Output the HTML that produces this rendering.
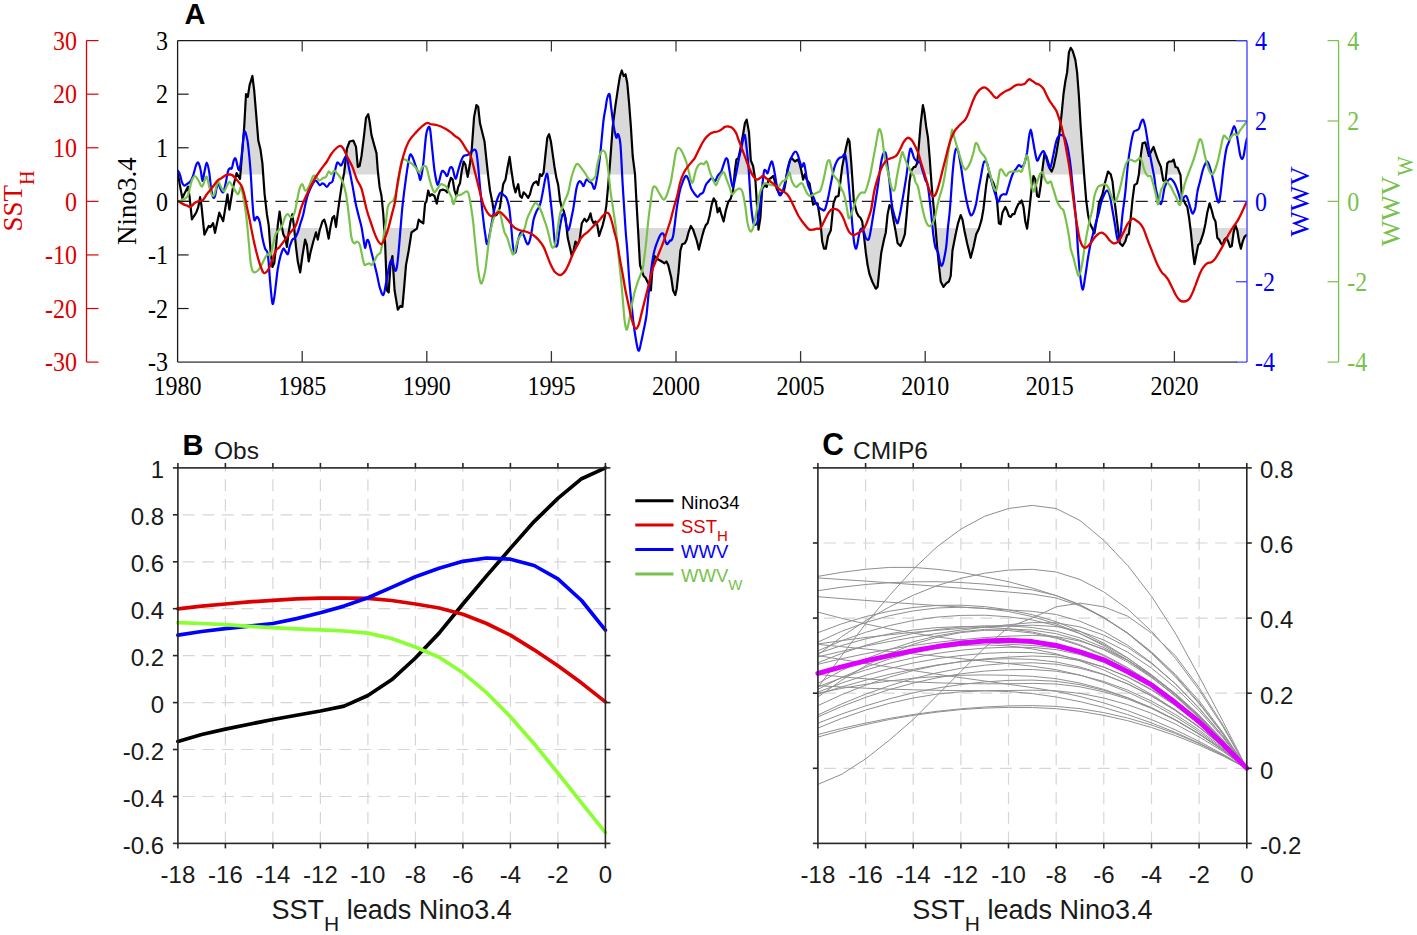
<!DOCTYPE html>
<html><head><meta charset="utf-8"><title>Figure</title>
<style>html,body{margin:0;padding:0;background:#fff;width:1417px;height:935px;overflow:hidden}
svg{display:block;font-family:"Liberation Sans",sans-serif}</style></head>
<body><svg width="1417" height="935" viewBox="0 0 1417 935">
<rect width="1417" height="935" fill="#fff"/>
<defs>
<clipPath id="clipA"><rect x="177.6" y="40.6" width="1069.4" height="321.5"/></clipPath>
<clipPath id="clipB"><rect x="174.9" y="464.9" width="433.5" height="381.5"/></clipPath>
<clipPath id="clipC"><rect x="814.9" y="464.9" width="434.9" height="381.5"/></clipPath>
</defs>
<polygon points="177.9,174.6 177.9,174.1 178.0,174.6" fill="#d9d9d9"/>
<polygon points="236.3,174.6 236.6,173.1 237.5,174.6" fill="#d9d9d9"/>
<polygon points="240.4,174.6 242.4,150.0 244.2,126.9 246.0,94.2 247.8,96.9 249.6,85.1 252.4,76.0 254.2,90.5 256.0,112.4 258.3,140.5 260.5,149.6 262.4,163.3 263.2,174.6" fill="#d9d9d9"/>
<polygon points="343.8,174.6 344.2,172.4 346.9,148.7 349.6,141.5 353.3,140.5 356.0,146.9 357.8,166.9 359.6,166.0 361.5,156.0 364.2,134.2 366.0,117.8 368.2,114.2 369.6,121.5 371.5,135.1 374.2,145.1 376.5,153.3 377.8,170.5 378.3,174.6" fill="#d9d9d9"/>
<polygon points="461.2,174.6 461.8,170.5 463.6,161.5 465.5,165.1 467.3,174.6" fill="#d9d9d9"/>
<polygon points="468.1,174.6 470.0,163.3 471.8,148.7 474.1,116.9 476.4,105.1 478.2,106.9 480.0,123.3 481.8,130.5 484.5,141.5 486.4,159.6 488.0,174.6" fill="#d9d9d9"/>
<polygon points="506.3,174.6 507.3,168.7 509.6,156.9 511.4,170.5 512.0,174.6" fill="#d9d9d9"/>
<polygon points="539.9,174.6 540.0,174.2 540.4,174.6" fill="#d9d9d9"/>
<polygon points="542.5,174.6 543.6,172.4 545.5,154.2 547.3,137.8 549.1,134.2 550.9,141.5 552.7,154.2 554.5,166.9 555.8,174.6" fill="#d9d9d9"/>
<polygon points="609.1,174.6 610.0,163.3 612.7,126.9 615.5,105.1 618.2,86.9 620.0,76.0 621.8,70.5 623.6,76.0 625.5,74.2 627.3,83.3 629.1,103.3 630.9,126.9 632.7,156.0 635.0,174.2 635.0,174.6" fill="#d9d9d9"/>
<polygon points="734.5,174.6 734.9,170.5 736.4,159.6 738.5,157.8 740.4,148.7 743.1,134.2 744.9,123.3 746.7,119.6 749.0,132.4 750.8,160.5 753.1,166.0 754.4,174.6" fill="#d9d9d9"/>
<polygon points="786.8,174.6 787.6,168.7 789.5,161.5 791.3,157.8 793.1,159.6 794.9,161.5 797.6,159.6 799.5,163.3 801.3,170.5 802.1,174.6" fill="#d9d9d9"/>
<polygon points="804.8,174.6 804.9,174.2 805.0,174.6" fill="#d9d9d9"/>
<polygon points="841.2,174.6 842.2,166.9 844.0,157.8 845.8,148.7 848.1,138.7 849.5,141.5 851.3,163.3 852.0,174.6" fill="#d9d9d9"/>
<polygon points="910.6,174.6 911.3,170.5 914.0,166.9 915.3,166.9 917.1,163.3 918.9,145.1 920.7,123.3 922.9,105.1 924.4,112.4 926.2,126.9 928.0,137.8 929.8,159.6 930.9,174.6" fill="#d9d9d9"/>
<polygon points="987.9,174.6 988.0,174.2 988.3,174.6" fill="#d9d9d9"/>
<polygon points="1041.9,174.6 1042.5,168.7 1044.4,154.2 1046.2,156.0 1048.0,161.5 1049.8,168.7 1051.6,171.5 1053.5,166.9 1056.2,154.2 1058.9,137.8 1061.6,114.2 1063.5,94.2 1065.3,81.5 1067.1,72.4 1068.9,52.4 1070.7,47.8 1072.5,50.5 1075.3,59.6 1077.1,72.4 1078.9,96.0 1080.7,126.9 1082.5,152.4 1084.1,174.6" fill="#d9d9d9"/>
<polygon points="1107.2,174.6 1108.0,171.5 1110.7,174.2 1110.8,174.6" fill="#d9d9d9"/>
<polygon points="1138.8,174.6 1138.9,174.2 1140.7,156.0 1142.5,143.3 1145.3,142.4 1147.1,148.7 1148.9,156.0 1151.6,150.5 1153.5,146.9 1155.3,152.4 1158.1,160.5 1160.9,166.9 1162.2,174.6" fill="#d9d9d9"/>
<polygon points="1166.1,174.6 1167.3,163.3 1169.1,161.5 1171.8,161.5 1173.6,159.6 1175.5,166.9 1177.7,167.8 1180.3,174.6" fill="#d9d9d9"/>
<polygon points="203.7,228.1 204.4,234.7 207.7,228.1" fill="#d9d9d9"/>
<polygon points="214.1,228.1 215.0,232.8 216.0,228.1" fill="#d9d9d9"/>
<polygon points="268.9,228.1 270.5,250.5 272.4,266.9 274.2,263.3 276.0,246.9 277.6,228.1" fill="#d9d9d9"/>
<polygon points="282.1,228.1 283.3,234.2 285.1,237.8 286.9,246.9 288.7,232.4 289.4,228.1" fill="#d9d9d9"/>
<polygon points="294.1,228.1 294.2,228.7 296.0,246.9 297.8,261.5 300.2,272.4 302.4,256.0 305.1,239.6 306.9,245.1 308.7,261.5 310.5,252.4 313.3,241.5 316.0,232.4 317.8,239.6 319.6,230.5 320.4,228.1" fill="#d9d9d9"/>
<polygon points="326.6,228.1 328.7,238.7 330.4,228.1" fill="#d9d9d9"/>
<polygon points="384.1,228.1 385.1,243.3 386.9,290.5 388.7,292.4 390.5,265.1 392.4,256.0 394.6,290.5 397.8,309.6 400.5,306.0 402.4,306.9 404.2,286.9 406.0,265.1 408.7,250.5 411.5,232.4 414.2,230.5 416.9,228.7 417.0,228.1" fill="#d9d9d9"/>
<polygon points="566.6,228.1 567.7,237.8 570.0,247.8 571.8,256.0 573.6,250.5 575.5,241.5 577.3,245.1 579.5,240.5 581.2,228.1" fill="#d9d9d9"/>
<polygon points="597.8,228.1 599.1,236.0 600.9,230.5 601.7,228.1" fill="#d9d9d9"/>
<polygon points="637.9,228.1 638.2,232.4 640.0,265.1 641.8,270.5 643.6,276.0 645.5,277.8 647.3,281.5 649.1,285.1 650.9,290.5 652.7,265.1 654.5,256.0 656.4,257.8 658.2,259.6 660.0,260.5 661.8,261.5 664.5,263.3 666.4,261.5 668.2,265.1 670.0,272.4 671.3,277.8 673.1,290.5 675.3,295.1 676.7,288.7 678.5,272.4 680.4,250.5 682.2,244.2 684.9,243.3 686.7,239.6 688.5,232.4 690.1,228.1" fill="#d9d9d9"/>
<polygon points="692.2,228.1 693.1,229.6 694.9,235.1 696.7,240.5 698.9,249.6 700.4,243.3 702.2,236.0 704.0,229.6 704.6,228.1" fill="#d9d9d9"/>
<polygon points="758.5,228.1 758.5,229.6 758.8,228.1" fill="#d9d9d9"/>
<polygon points="821.0,228.1 822.2,241.5 824.0,248.7 825.8,248.7 828.1,236.0 830.8,230.5 831.1,228.1" fill="#d9d9d9"/>
<polygon points="863.0,228.1 864.0,236.0 865.8,252.4 867.6,265.1 869.5,274.2 872.2,281.5 875.8,288.7 877.6,286.9 879.5,268.7 881.3,252.4 884.0,239.6 885.8,232.4 886.2,228.1" fill="#d9d9d9"/>
<polygon points="895.0,228.1 895.8,232.4 897.6,243.3 900.4,246.0 903.1,239.6 904.9,234.2 905.5,228.1" fill="#d9d9d9"/>
<polygon points="935.5,228.1 937.1,246.9 938.9,265.1 940.7,281.5 943.5,286.9 946.2,283.3 948.9,281.5 950.7,276.0 952.5,250.5 955.3,236.0 957.0,228.1" fill="#d9d9d9"/>
<polygon points="964.0,228.1 964.4,230.5 967.1,243.3 970.7,257.8 973.5,246.9 976.2,234.2 978.9,228.7 979.1,228.1" fill="#d9d9d9"/>
<polygon points="1026.9,228.1 1027.1,228.7 1027.2,228.1" fill="#d9d9d9"/>
<polygon points="1092.3,228.1 1092.5,228.7 1094.4,233.3 1095.3,228.1" fill="#d9d9d9"/>
<polygon points="1117.9,228.1 1119.8,243.3 1122.5,246.0 1125.3,241.5 1127.1,235.1 1128.9,234.2 1129.6,228.1" fill="#d9d9d9"/>
<polygon points="1190.4,228.1 1190.9,232.4 1192.7,250.5 1194.5,264.2 1196.4,254.2 1198.2,245.1 1200.0,243.3 1201.8,237.8 1203.6,232.4 1204.5,228.1" fill="#d9d9d9"/>
<polygon points="1216.2,228.1 1217.3,237.8 1219.1,239.6 1220.9,243.3 1222.7,245.1 1224.5,239.6 1226.4,237.8 1228.2,241.5 1230.0,246.9 1231.8,246.0 1233.6,232.4 1234.7,228.1" fill="#d9d9d9"/>
<polygon points="1236.5,228.1 1237.3,230.5 1239.1,241.5 1240.9,248.7 1242.7,241.5 1244.5,236.9 1246.4,235.1 1246.4,228.1" fill="#d9d9d9"/>
<line x1="177.6" y1="201.35" x2="1247.0" y2="201.35" stroke="#222" stroke-width="1.15" stroke-dasharray="12.2 7.35"/>
<g clip-path="url(#clipA)">
<polyline points="177.9,174.1 182.3,198.1 188.0,186.6 189.5,196.2 191.9,219.3 196.2,212.6 198.1,207.7 200.1,197.2 201.5,205.8 204.4,234.7 208.7,226.0 210.6,227.0 213.1,223.1 215.0,232.8 219.3,212.6 223.2,221.2 227.5,194.3 229.4,209.7 232.8,188.5 236.6,173.1 240.0,178.9 242.4,150.0 244.2,126.9 246.0,94.2 247.8,96.9 249.6,85.1 252.4,76.0 254.2,90.5 256.0,112.4 258.3,140.5 260.5,149.6 262.4,163.3 264.6,194.2 266.9,214.2 268.7,225.1 270.5,250.5 272.4,266.9 274.2,263.3 276.0,246.9 277.8,225.1 279.6,211.5 281.5,225.1 283.3,234.2 285.1,237.8 286.9,246.9 288.7,232.4 290.5,221.5 292.4,214.2 294.2,228.7 296.0,246.9 297.8,261.5 300.2,272.4 302.4,256.0 305.1,239.6 306.9,245.1 308.7,261.5 310.5,252.4 313.3,241.5 316.0,232.4 317.8,239.6 319.6,230.5 322.4,221.5 324.2,219.6 326.0,225.1 328.7,238.7 330.5,226.9 332.4,217.8 334.2,216.0 336.0,226.9 337.8,212.4 339.6,199.6 341.5,186.9 344.2,172.4 346.9,148.7 349.6,141.5 353.3,140.5 356.0,146.9 357.8,166.9 359.6,166.0 361.5,156.0 364.2,134.2 366.0,117.8 368.2,114.2 369.6,121.5 371.5,135.1 374.2,145.1 376.5,153.3 377.8,170.5 379.6,186.9 381.5,196.0 383.3,214.2 385.1,243.3 386.9,290.5 388.7,292.4 390.5,265.1 392.4,256.0 394.6,290.5 397.8,309.6 400.5,306.0 402.4,306.9 404.2,286.9 406.0,265.1 408.7,250.5 411.5,232.4 414.2,230.5 416.9,228.7 418.7,219.6 420.5,221.5 423.3,223.3 425.1,203.3 426.4,201.5 428.2,190.5 430.0,196.0 431.8,194.2 434.5,196.0 436.8,203.7 438.2,196.0 440.0,190.5 442.7,189.6 445.5,190.5 447.3,192.4 449.1,183.3 450.9,177.8 452.7,179.6 454.5,190.5 456.4,196.0 458.2,186.9 460.0,183.3 461.8,170.5 463.6,161.5 465.5,165.1 467.7,176.9 470.0,163.3 471.8,148.7 474.1,116.9 476.4,105.1 478.2,106.9 480.0,123.3 481.8,130.5 484.5,141.5 486.4,159.6 488.2,176.0 490.0,190.5 492.3,201.9 494.5,216.0 496.4,215.1 498.2,212.4 500.0,206.9 503.2,184.2 505.5,179.6 507.3,168.7 509.6,156.9 511.4,170.5 513.6,185.1 515.5,192.4 518.2,184.2 520.0,196.0 521.8,197.8 523.6,192.4 525.5,194.2 528.2,197.8 530.0,194.2 531.8,186.9 533.6,183.3 536.4,181.5 538.2,185.1 540.0,174.2 541.8,176.0 543.6,172.4 545.5,154.2 547.3,137.8 549.1,134.2 550.9,141.5 552.7,154.2 554.5,166.9 556.4,177.8 558.2,185.1 560.0,200.5 561.8,207.8 563.6,210.5 565.5,217.8 567.7,237.8 570.0,247.8 571.8,256.0 573.6,250.5 575.5,241.5 577.3,245.1 579.5,240.5 581.8,223.3 584.5,218.7 586.4,221.5 588.2,219.6 590.5,213.3 591.8,219.6 593.6,223.3 595.5,221.5 597.3,225.1 599.1,236.0 600.9,230.5 602.7,225.1 604.5,217.8 606.4,205.1 608.2,185.1 610.0,163.3 612.7,126.9 615.5,105.1 618.2,86.9 620.0,76.0 621.8,70.5 623.6,76.0 625.5,74.2 627.3,83.3 629.1,103.3 630.9,126.9 632.7,156.0 635.0,174.2 636.4,200.5 638.2,232.4 640.0,265.1 641.8,270.5 643.6,276.0 645.5,277.8 647.3,281.5 649.1,285.1 650.9,290.5 652.7,265.1 654.5,256.0 656.4,257.8 658.2,259.6 660.0,260.5 661.8,261.5 664.5,263.3 666.4,261.5 668.2,265.1 670.0,272.4 671.3,277.8 673.1,290.5 675.3,295.1 676.7,288.7 678.5,272.4 680.4,250.5 682.2,244.2 684.9,243.3 686.7,239.6 688.5,232.4 690.9,226.0 693.1,229.6 694.9,235.1 696.7,240.5 698.9,249.6 700.4,243.3 702.2,236.0 704.0,229.6 705.8,225.1 707.6,223.3 709.5,216.0 711.7,204.6 713.7,198.3 715.8,201.9 717.6,212.4 719.5,207.8 721.3,214.2 723.6,221.5 725.8,210.5 728.1,202.4 730.8,198.3 733.1,190.5 734.9,170.5 736.4,159.6 738.5,157.8 740.4,148.7 743.1,134.2 744.9,123.3 746.7,119.6 749.0,132.4 750.8,160.5 753.1,166.0 755.4,180.5 756.7,200.5 758.5,229.6 760.4,217.8 762.2,188.7 764.9,185.1 766.7,186.9 768.5,179.6 771.3,177.8 773.1,176.0 774.9,181.5 776.7,188.7 779.5,194.2 782.2,192.4 784.0,190.5 785.8,181.5 787.6,168.7 789.5,161.5 791.3,157.8 793.1,159.6 794.9,161.5 797.6,159.6 799.5,163.3 801.3,170.5 803.1,179.6 804.9,174.2 806.7,179.6 809.5,183.3 811.3,194.2 813.1,204.6 814.9,203.3 817.6,203.3 820.4,221.5 822.2,241.5 824.0,248.7 825.8,248.7 828.1,236.0 830.8,230.5 833.5,203.3 835.8,196.9 838.5,196.0 840.4,181.5 842.2,166.9 844.0,157.8 845.8,148.7 848.1,138.7 849.5,141.5 851.3,163.3 853.8,200.8 856.7,212.4 858.5,216.0 860.4,217.8 862.2,221.5 864.0,236.0 865.8,252.4 867.6,265.1 869.5,274.2 872.2,281.5 875.8,288.7 877.6,286.9 879.5,268.7 881.3,252.4 884.0,239.6 885.8,232.4 887.6,214.2 889.5,205.1 891.3,206.9 893.1,217.8 895.8,232.4 897.6,243.3 900.4,246.0 903.1,239.6 904.9,234.2 906.7,214.2 909.5,181.5 911.3,170.5 914.0,166.9 915.3,166.9 917.1,163.3 918.9,145.1 920.7,123.3 922.9,105.1 924.4,112.4 926.2,126.9 928.0,137.8 929.8,159.6 931.6,185.1 935.3,225.1 937.1,246.9 938.9,265.1 940.7,281.5 943.5,286.9 946.2,283.3 948.9,281.5 950.7,276.0 952.5,250.5 955.3,236.0 958.0,223.3 960.7,215.1 962.5,219.6 964.4,230.5 967.1,243.3 970.7,257.8 973.5,246.9 976.2,234.2 978.9,228.7 981.6,219.6 983.5,208.7 986.2,185.1 988.0,174.2 990.7,177.8 993.5,183.3 995.3,188.7 997.1,201.5 998.9,223.3 1000.7,224.2 1002.5,212.4 1005.3,206.9 1007.1,210.5 1008.9,216.0 1010.7,216.9 1012.5,214.2 1014.4,214.2 1016.2,208.7 1018.5,203.7 1019.8,203.3 1021.6,200.5 1023.5,206.9 1025.3,221.5 1027.1,228.7 1028.9,214.2 1031.6,188.7 1033.5,176.0 1035.3,179.6 1037.1,196.0 1038.9,196.9 1040.7,185.1 1042.5,168.7 1044.4,154.2 1046.2,156.0 1048.0,161.5 1049.8,168.7 1051.6,171.5 1053.5,166.9 1056.2,154.2 1058.9,137.8 1061.6,114.2 1063.5,94.2 1065.3,81.5 1067.1,72.4 1068.9,52.4 1070.7,47.8 1072.5,50.5 1075.3,59.6 1077.1,72.4 1078.9,96.0 1080.7,126.9 1082.5,152.4 1084.4,177.8 1086.2,200.5 1088.0,214.2 1089.8,223.3 1092.5,228.7 1094.4,233.3 1097.1,217.8 1098.9,203.3 1102.5,194.2 1105.3,181.5 1108.0,171.5 1110.7,174.2 1112.5,181.5 1114.4,199.6 1117.5,225.1 1119.8,243.3 1122.5,246.0 1125.3,241.5 1127.1,235.1 1128.9,234.2 1130.7,217.8 1132.5,199.6 1134.4,185.1 1137.1,183.3 1138.9,174.2 1140.7,156.0 1142.5,143.3 1145.3,142.4 1147.1,148.7 1148.9,156.0 1151.6,150.5 1153.5,146.9 1155.3,152.4 1158.1,160.5 1160.9,166.9 1163.2,180.5 1165.5,181.5 1167.3,163.3 1169.1,161.5 1171.8,161.5 1173.6,159.6 1175.5,166.9 1177.7,167.8 1180.5,175.1 1181.8,196.0 1185.5,204.2 1187.3,206.9 1189.1,217.8 1190.9,232.4 1192.7,250.5 1194.5,264.2 1196.4,254.2 1198.2,245.1 1200.0,243.3 1201.8,237.8 1203.6,232.4 1205.5,223.3 1207.3,212.4 1209.6,203.3 1211.8,210.5 1213.6,217.8 1215.5,221.5 1217.3,237.8 1219.1,239.6 1220.9,243.3 1222.7,245.1 1224.5,239.6 1226.4,237.8 1228.2,241.5 1230.0,246.9 1231.8,246.0 1233.6,232.4 1235.5,225.1 1237.3,230.5 1239.1,241.5 1240.9,248.7 1242.7,241.5 1244.5,236.9 1246.4,235.1" fill="none" stroke="#000" stroke-width="2.2" stroke-linejoin="round" stroke-linecap="round"/>
<path d="M177.9,170.7 C178.2,171.3 179.2,172.2 179.8,174.1 C180.5,175.9 181.1,179.8 181.8,181.8 C182.5,183.7 183.4,185.2 184.2,185.6 C185.0,186.0 185.5,184.9 186.6,184.2 C187.6,183.4 189.3,182.8 190.4,181.3 C191.6,179.8 192.4,177.5 193.3,175.0 C194.2,172.5 194.9,168.4 195.7,166.4 C196.5,164.3 197.3,162.0 198.1,162.5 C198.9,163.0 199.8,166.2 200.5,169.2 C201.3,172.3 201.8,180.3 202.5,180.8 C203.1,181.3 203.7,175.2 204.4,172.1 C205.1,169.1 206.0,162.5 206.8,162.5 C207.6,162.5 208.5,167.8 209.2,172.1 C209.9,176.5 210.5,184.3 211.1,188.5 C211.8,192.7 212.4,195.9 213.1,197.2 C213.7,198.4 214.3,198.0 215.0,196.2 C215.6,194.4 216.3,188.8 216.9,186.6 C217.5,184.3 217.8,182.4 218.3,182.7 C218.9,183.0 219.5,186.9 220.3,188.5 C221.1,190.1 222.3,193.2 223.2,192.3 C224.0,191.5 224.8,187.2 225.6,183.7 C226.4,180.2 227.3,173.7 228.0,171.2 C228.7,168.6 229.3,168.8 229.9,168.3 C230.5,167.8 231.2,169.6 231.8,168.3 C232.5,167.0 233.1,162.2 233.7,160.6 C234.4,159.0 235.0,157.4 235.7,158.7 C236.4,159.9 237.4,166.5 238.1,168.3 C238.7,170.1 239.0,171.0 239.5,169.2 C240.1,167.5 240.7,163.8 241.4,157.7 C242.2,151.6 243.3,135.7 244.2,132.4 C245.1,129.1 246.2,134.8 246.9,137.8 C247.7,140.8 248.1,145.1 248.7,150.5 C249.3,156.0 249.9,162.1 250.5,170.5 C251.2,179.0 251.8,193.3 252.4,201.5 C253.0,209.6 253.4,217.1 254.2,219.6 C254.9,222.2 256.0,216.6 256.9,216.9 C257.8,217.2 258.7,218.0 259.6,221.5 C260.5,224.9 261.5,233.3 262.4,237.8 C263.3,242.4 264.2,246.0 265.1,248.7 C266.0,251.5 267.0,248.7 267.8,254.2 C268.7,259.6 269.3,273.3 270.1,281.5 C270.8,289.6 271.7,300.5 272.4,303.3 C273.0,306.0 273.6,301.2 274.2,297.8 C274.8,294.5 275.4,288.1 276.0,283.3 C276.6,278.4 277.1,273.3 277.8,268.7 C278.6,264.2 279.6,259.3 280.5,256.0 C281.5,252.7 282.5,249.6 283.3,248.7 C284.0,247.8 284.3,249.6 285.1,250.5 C285.8,251.5 287.1,254.8 287.8,254.2 C288.6,253.6 288.9,249.3 289.6,246.9 C290.4,244.5 291.5,241.2 292.4,239.6 C293.3,238.1 294.2,239.0 295.1,237.8 C296.0,236.6 296.9,234.8 297.8,232.4 C298.7,229.9 299.6,226.3 300.5,223.3 C301.5,220.2 302.4,217.8 303.3,214.2 C304.2,210.5 305.1,205.1 306.0,201.5 C306.9,197.8 307.4,195.7 308.7,192.4 C310.1,189.0 312.8,183.3 314.2,181.5 C315.5,179.6 316.0,180.8 316.9,181.5 C317.8,182.1 318.7,184.8 319.6,185.1 C320.5,185.4 321.6,183.4 322.4,183.3 C323.1,183.1 323.4,183.6 324.2,184.2 C324.9,184.8 326.0,187.1 326.9,186.9 C327.8,186.8 328.7,184.2 329.6,183.3 C330.5,182.4 331.6,183.0 332.4,181.5 C333.1,179.9 333.4,177.2 334.2,174.2 C334.9,171.2 336.2,165.1 336.9,163.3 C337.7,161.5 338.0,163.0 338.7,163.3 C339.5,163.6 340.2,166.3 341.5,165.1 C342.7,163.9 344.8,155.7 346.0,156.0 C347.2,156.3 347.7,162.1 348.7,166.9 C349.8,171.8 351.2,178.7 352.4,185.1 C353.6,191.5 354.9,199.9 356.0,205.1 C357.1,210.2 357.8,212.4 358.7,216.0 C359.6,219.6 360.7,223.3 361.5,226.9 C362.2,230.5 362.7,234.3 363.3,237.8 C363.9,241.3 364.5,247.4 365.1,247.8 C365.7,248.3 366.3,241.6 366.9,240.5 C367.5,239.5 368.0,239.5 368.7,241.5 C369.5,243.4 370.5,248.7 371.5,252.4 C372.4,256.0 373.3,259.6 374.2,263.3 C375.1,266.9 376.0,270.2 376.9,274.2 C377.8,278.1 378.6,283.4 379.6,286.9 C380.7,290.4 382.2,295.7 383.3,295.1 C384.3,294.5 385.1,287.7 386.0,283.3 C386.9,278.9 388.0,272.4 388.7,268.7 C389.5,265.1 389.9,262.8 390.5,261.5 C391.2,260.1 391.6,259.0 392.4,260.5 C393.1,262.1 394.3,269.5 395.1,270.5 C395.8,271.6 396.3,270.2 396.9,266.9 C397.5,263.6 398.1,256.9 398.7,250.5 C399.3,244.2 399.9,236.0 400.5,228.7 C401.2,221.5 401.5,215.4 402.4,206.9 C403.3,198.4 404.8,186.3 406.0,177.8 C407.2,169.3 408.6,159.5 409.6,156.0 C410.7,152.5 411.3,155.1 412.4,156.9 C413.4,158.7 414.9,164.0 416.0,166.9 C417.1,169.8 418.0,172.1 418.7,174.2 C419.5,176.3 419.8,181.5 420.5,179.6 C421.3,177.8 422.4,170.5 423.3,163.3 C424.2,156.0 425.2,141.9 426.0,136.0 C426.8,130.1 427.5,129.0 428.2,127.8 C428.8,126.6 429.4,125.8 430.0,128.7 C430.6,131.6 431.1,138.1 431.8,145.1 C432.6,152.1 433.6,164.0 434.5,170.5 C435.5,177.1 436.5,182.4 437.3,184.2 C438.0,186.0 438.3,183.6 439.1,181.5 C439.8,179.3 440.9,173.0 441.8,171.5 C442.7,169.9 443.6,171.6 444.5,172.4 C445.5,173.1 446.4,176.8 447.3,176.0 C448.2,175.2 449.1,169.0 450.0,167.8 C450.9,166.6 451.8,166.9 452.7,168.7 C453.6,170.5 454.5,178.4 455.5,178.7 C456.4,179.0 457.3,173.4 458.2,170.5 C459.1,167.7 460.0,163.9 460.9,161.5 C461.8,159.0 462.6,157.1 463.6,156.0 C464.7,154.9 466.1,155.7 467.3,155.1 C468.5,154.5 469.7,153.3 470.9,152.4 C472.1,151.5 473.6,149.6 474.5,149.6 C475.5,149.6 475.8,149.5 476.4,152.4 C477.0,155.2 477.6,161.2 478.2,166.9 C478.8,172.7 479.2,179.0 480.0,186.9 C480.8,194.8 481.8,206.0 482.7,214.2 C483.6,222.4 484.7,231.0 485.5,236.0 C486.2,241.0 486.5,244.8 487.3,244.2 C488.0,243.6 489.1,236.8 490.0,232.4 C490.9,228.0 491.8,222.4 492.7,217.8 C493.6,213.3 494.2,209.2 495.5,205.1 C496.7,201.0 498.6,194.9 500.0,193.3 C501.4,191.6 502.6,194.3 503.6,195.1 C504.7,195.8 505.5,195.8 506.4,197.8 C507.3,199.8 508.3,202.7 509.1,206.9 C509.8,211.2 510.2,216.5 510.9,223.3 C511.6,230.1 512.4,243.0 513.2,247.8 C513.9,252.7 514.6,253.7 515.5,252.4 C516.3,251.0 517.3,243.0 518.2,239.6 C519.1,236.3 520.0,233.1 520.9,232.4 C521.8,231.6 522.7,233.4 523.6,235.1 C524.5,236.8 525.6,240.8 526.4,242.4 C527.1,243.9 527.6,244.6 528.2,244.2 C528.8,243.7 529.4,241.9 530.0,239.6 C530.6,237.4 531.2,233.9 531.8,230.5 C532.4,227.2 532.9,222.8 533.6,219.6 C534.4,216.5 535.5,213.6 536.4,211.5 C537.3,209.3 538.3,208.6 539.1,206.9 C539.8,205.2 540.3,203.9 540.9,201.5 C541.5,199.0 542.0,196.3 542.7,192.4 C543.5,188.4 544.7,180.8 545.5,177.8 C546.2,174.8 546.7,172.7 547.3,174.2 C547.9,175.7 548.2,179.3 549.1,186.9 C550.0,194.5 551.7,210.2 552.7,219.6 C553.7,229.1 554.2,239.5 555.0,243.7 C555.8,248.0 556.6,247.0 557.3,245.1 C558.0,243.2 558.5,236.3 559.1,232.4 C559.7,228.4 560.3,224.5 560.9,221.5 C561.5,218.4 562.1,215.1 562.7,214.2 C563.3,213.3 563.9,214.2 564.5,216.0 C565.2,217.8 565.8,222.7 566.4,225.1 C567.0,227.5 567.6,230.5 568.2,230.5 C568.8,230.5 569.4,227.5 570.0,225.1 C570.6,222.7 571.2,219.0 571.8,216.0 C572.4,213.0 572.9,211.5 573.6,206.9 C574.4,202.4 575.5,193.0 576.4,188.7 C577.3,184.5 578.2,182.4 579.1,181.5 C580.0,180.5 581.1,182.5 581.8,183.3 C582.6,184.0 582.9,186.6 583.6,186.0 C584.4,185.4 585.5,180.4 586.4,179.6 C587.3,178.9 588.2,180.8 589.1,181.5 C590.0,182.1 590.9,182.1 591.8,183.3 C592.7,184.5 593.6,189.9 594.5,188.7 C595.5,187.5 596.4,181.5 597.3,176.0 C598.2,170.5 599.2,162.4 600.0,156.0 C600.8,149.6 601.2,143.9 601.8,137.8 C602.4,131.8 603.0,124.5 603.6,119.6 C604.2,114.8 604.8,112.4 605.5,108.7 C606.1,105.1 606.6,100.2 607.3,97.8 C607.9,95.4 608.8,93.0 609.5,94.2 C610.1,95.4 610.4,100.8 610.9,105.1 C611.5,109.3 612.1,115.4 612.7,119.6 C613.3,123.9 613.9,127.5 614.5,130.5 C615.2,133.6 615.8,137.2 616.4,137.8 C617.0,138.4 617.5,133.0 618.2,134.2 C618.9,135.4 619.7,136.6 620.5,145.1 C621.2,153.6 621.9,171.2 622.7,185.1 C623.6,199.0 624.7,217.8 625.5,228.7 C626.2,239.6 626.7,242.4 627.3,250.5 C627.9,258.7 628.5,269.9 629.1,277.8 C629.7,285.7 630.3,291.5 630.9,297.8 C631.5,304.2 632.1,310.5 632.7,316.0 C633.3,321.5 633.8,325.4 634.5,330.5 C635.3,335.7 636.5,343.6 637.3,346.9 C638.0,350.2 638.5,351.2 639.1,350.5 C639.7,349.9 640.2,346.6 640.9,343.3 C641.7,339.9 642.7,335.1 643.6,330.5 C644.5,326.0 645.6,321.5 646.4,316.0 C647.1,310.5 647.6,303.9 648.2,297.8 C648.8,291.8 649.4,285.1 650.0,279.6 C650.6,274.2 651.2,269.3 651.8,265.1 C652.4,260.8 653.0,257.2 653.6,254.2 C654.2,251.2 654.7,249.3 655.5,246.9 C656.2,244.5 657.3,241.8 658.2,239.6 C659.1,237.5 660.0,235.1 660.9,234.2 C661.8,233.3 662.9,233.0 663.6,234.2 C664.4,235.4 664.8,239.8 665.5,241.5 C666.1,243.1 666.5,244.3 667.3,244.2 C668.0,244.0 669.3,241.2 670.0,240.5 C670.7,239.9 670.8,241.3 671.3,240.5 C671.8,239.8 672.5,238.9 673.1,236.0 C673.7,233.1 674.3,227.8 674.9,223.3 C675.5,218.7 676.0,213.9 676.7,208.7 C677.5,203.6 678.5,196.6 679.5,192.4 C680.4,188.1 681.1,186.0 682.2,183.3 C683.2,180.5 684.8,176.6 685.8,176.0 C686.9,175.4 687.6,177.5 688.5,179.6 C689.5,181.8 690.2,186.3 691.3,188.7 C692.3,191.2 693.8,192.8 694.9,194.2 C696.0,195.5 696.7,196.9 697.6,196.9 C698.5,196.9 699.5,194.9 700.4,194.2 C701.3,193.4 702.2,193.9 703.1,192.4 C704.0,190.8 704.9,186.9 705.8,185.1 C706.7,183.3 707.5,182.7 708.5,181.5 C709.6,180.2 711.1,177.8 712.2,177.8 C713.2,177.8 714.0,181.8 714.9,181.5 C715.8,181.2 716.6,177.7 717.6,176.0 C718.7,174.3 720.2,173.6 721.3,171.5 C722.3,169.3 723.2,165.4 724.0,163.3 C724.8,161.2 725.2,159.3 725.8,158.7 C726.4,158.1 727.0,157.7 727.6,159.6 C728.2,161.6 728.8,166.9 729.5,170.5 C730.1,174.2 730.7,178.7 731.3,181.5 C731.9,184.2 732.5,187.2 733.1,186.9 C733.7,186.6 734.3,182.4 734.9,179.6 C735.5,176.9 736.0,174.5 736.7,170.5 C737.5,166.6 738.7,159.6 739.5,156.0 C740.2,152.4 740.7,151.5 741.3,148.7 C741.9,146.0 742.5,141.9 743.1,139.6 C743.7,137.4 744.3,133.6 744.9,135.1 C745.5,136.6 746.1,143.4 746.7,148.7 C747.3,154.0 747.9,158.0 748.5,166.9 C749.2,175.8 750.1,193.3 750.8,202.4 C751.6,211.5 752.4,217.7 753.1,221.5 C753.8,225.2 754.2,225.1 754.9,225.1 C755.7,225.1 756.9,223.9 757.6,221.5 C758.4,219.0 758.7,216.3 759.5,210.5 C760.2,204.8 761.4,193.4 762.2,186.9 C762.9,180.4 763.4,174.2 764.0,171.5 C764.6,168.7 765.2,170.2 765.8,170.5 C766.4,170.8 767.0,173.9 767.6,173.3 C768.2,172.7 768.8,168.9 769.5,166.9 C770.1,164.9 771.0,161.8 771.6,161.5 C772.2,161.2 772.5,163.0 773.1,165.1 C773.6,167.2 774.3,170.8 774.9,174.2 C775.5,177.5 776.0,181.6 776.7,185.1 C777.5,188.6 778.5,193.9 779.5,195.1 C780.4,196.3 781.3,194.3 782.2,192.4 C783.1,190.4 784.0,186.9 784.9,183.3 C785.8,179.6 786.7,174.5 787.6,170.5 C788.5,166.6 789.5,162.4 790.4,159.6 C791.3,156.9 792.3,155.5 793.1,154.2 C793.9,152.8 794.5,151.5 795.3,151.5 C796.0,151.5 796.8,152.2 797.6,154.2 C798.5,156.2 799.6,161.2 800.4,163.3 C801.1,165.4 801.6,166.9 802.2,166.9 C802.8,166.9 803.4,162.4 804.0,163.3 C804.6,164.2 805.2,169.0 805.8,172.4 C806.4,175.7 807.0,180.5 807.6,183.3 C808.2,186.0 808.7,186.9 809.5,188.7 C810.2,190.5 811.2,192.0 812.2,194.2 C813.2,196.4 814.3,199.8 815.4,201.9 C816.4,204.0 817.4,205.6 818.5,206.9 C819.7,208.2 821.1,209.2 822.2,209.6 C823.2,210.1 823.9,211.6 824.9,209.6 C825.9,207.7 827.0,202.5 828.1,197.8 C829.2,193.1 830.3,186.3 831.3,181.5 C832.3,176.6 833.1,172.1 834.0,168.7 C834.9,165.4 835.8,163.3 836.7,161.5 C837.6,159.6 838.5,158.6 839.5,157.8 C840.4,157.1 841.3,157.5 842.2,156.9 C843.1,156.3 844.2,153.1 844.9,154.2 C845.7,155.2 846.1,158.7 846.7,163.3 C847.3,167.8 847.6,171.5 848.5,181.5 C849.5,191.5 851.3,213.3 852.2,223.3 C853.1,233.3 853.4,237.2 854.0,241.5 C854.6,245.7 855.2,248.4 855.8,248.7 C856.4,249.0 857.0,246.0 857.6,243.3 C858.2,240.5 858.8,234.8 859.5,232.4 C860.1,229.9 860.5,228.7 861.3,228.7 C862.0,228.7 863.2,230.8 864.0,232.4 C864.8,233.9 865.1,236.6 865.8,237.8 C866.6,239.0 867.8,240.5 868.5,239.6 C869.3,238.7 869.8,235.4 870.4,232.4 C871.0,229.3 871.6,225.1 872.2,221.5 C872.8,217.8 872.9,217.2 874.0,210.5 C875.1,203.9 877.5,188.7 878.5,181.5 C879.6,174.2 879.6,171.5 880.4,166.9 C881.1,162.4 882.2,156.5 883.1,154.2 C884.0,151.9 885.1,151.2 885.8,153.3 C886.6,155.4 887.0,162.2 887.6,166.9 C888.2,171.6 888.8,175.3 889.5,181.5 C890.1,187.6 891.0,198.3 891.7,203.7 C892.5,209.2 893.3,211.5 894.0,214.2 C894.7,216.8 895.2,218.1 895.8,219.6 C896.4,221.2 897.0,223.9 897.6,223.3 C898.2,222.7 898.8,218.7 899.5,216.0 C900.1,213.3 900.1,213.9 901.3,206.9 C902.5,199.9 905.5,182.4 906.7,174.2 C907.9,166.0 907.9,162.1 908.5,157.8 C909.2,153.6 909.8,149.6 910.4,148.7 C911.0,147.8 911.6,150.8 912.2,152.4 C912.8,153.9 913.5,156.6 914.0,157.8 C914.5,159.0 914.6,158.9 915.3,159.6 C915.9,160.4 917.2,162.1 918.0,162.4 C918.8,162.7 919.1,160.1 919.8,161.5 C920.6,162.8 921.6,167.5 922.5,170.5 C923.5,173.6 924.4,176.9 925.3,179.6 C926.2,182.4 926.9,180.5 928.0,186.9 C929.1,193.3 930.7,209.6 931.6,217.8 C932.5,226.0 932.8,231.2 933.5,236.0 C934.1,240.8 934.5,244.2 935.3,246.9 C936.0,249.6 937.2,249.9 938.0,252.4 C938.8,254.8 939.2,259.2 939.8,261.5 C940.4,263.7 941.0,266.0 941.6,266.0 C942.2,266.0 942.7,264.6 943.5,261.5 C944.2,258.3 945.4,252.7 946.2,246.9 C946.9,241.2 947.4,233.0 948.0,226.9 C948.6,220.8 949.1,219.3 949.8,210.5 C950.6,201.8 951.8,183.3 952.5,174.2 C953.3,165.1 953.8,160.2 954.4,156.0 C955.0,151.8 955.6,149.6 956.2,148.7 C956.8,147.8 957.4,148.7 958.0,150.5 C958.6,152.4 959.2,156.3 959.8,159.6 C960.4,163.0 961.0,166.6 961.6,170.5 C962.2,174.5 962.8,179.3 963.5,183.3 C964.1,187.2 964.5,190.2 965.3,194.2 C966.0,198.1 967.1,203.4 968.0,206.9 C968.9,210.4 969.8,214.2 970.7,215.1 C971.6,216.0 972.5,214.3 973.5,212.4 C974.4,210.4 975.4,206.6 976.2,203.3 C976.9,199.9 977.2,196.6 978.0,192.4 C978.8,188.1 979.8,182.7 980.7,177.8 C981.6,173.0 982.7,166.0 983.5,163.3 C984.2,160.5 984.7,161.5 985.3,161.5 C985.9,161.5 986.3,161.2 987.1,163.3 C987.8,165.4 988.9,170.5 989.8,174.2 C990.7,177.8 991.6,181.8 992.5,185.1 C993.5,188.4 994.4,191.4 995.3,194.2 C996.2,197.0 997.1,201.6 998.0,201.9 C998.9,202.2 999.8,197.3 1000.7,196.0 C1001.6,194.7 1002.5,194.5 1003.5,194.2 C1004.4,193.9 1005.4,195.1 1006.2,194.2 C1006.9,193.3 1007.2,191.2 1008.0,188.7 C1008.8,186.3 1009.8,182.4 1010.7,179.6 C1011.6,176.9 1012.5,174.2 1013.5,172.4 C1014.4,170.5 1015.3,169.9 1016.2,168.7 C1017.1,167.5 1018.0,165.4 1018.9,165.1 C1019.8,164.8 1020.7,167.2 1021.6,166.9 C1022.5,166.6 1023.5,165.7 1024.4,163.3 C1025.3,160.8 1026.3,156.6 1027.1,152.4 C1027.8,148.1 1028.3,141.6 1028.9,137.8 C1029.5,134.0 1030.1,129.6 1030.7,129.6 C1031.3,129.6 1031.9,134.6 1032.5,137.8 C1033.2,141.0 1033.6,144.9 1034.4,148.7 C1035.1,152.5 1036.2,159.3 1037.1,160.5 C1038.0,161.8 1038.9,157.5 1039.8,156.0 C1040.7,154.5 1041.8,152.1 1042.5,151.5 C1043.3,150.8 1043.8,151.3 1044.4,152.4 C1045.0,153.4 1045.4,155.4 1046.2,157.8 C1046.9,160.2 1048.2,165.4 1048.9,166.9 C1049.7,168.4 1050.0,169.0 1050.7,166.9 C1051.5,164.8 1052.5,158.4 1053.5,154.2 C1054.4,149.9 1055.3,144.5 1056.2,141.5 C1057.1,138.4 1058.0,136.7 1058.9,135.6 C1059.8,134.6 1060.7,134.9 1061.6,135.1 C1062.5,135.3 1063.5,135.2 1064.4,136.9 C1065.3,138.6 1066.3,142.2 1067.1,145.1 C1067.8,148.0 1068.3,150.5 1068.9,154.2 C1069.5,157.8 1070.1,161.8 1070.7,166.9 C1071.3,172.1 1071.6,176.0 1072.5,185.1 C1073.5,194.2 1075.3,210.5 1076.2,221.5 C1077.1,232.4 1077.4,242.1 1078.0,250.5 C1078.6,259.0 1079.1,265.8 1079.8,272.4 C1080.6,278.9 1081.6,289.0 1082.5,289.6 C1083.5,290.2 1084.4,281.3 1085.3,276.0 C1086.2,270.7 1087.1,263.3 1088.0,257.8 C1088.9,252.4 1089.8,247.5 1090.7,243.3 C1091.6,239.0 1092.5,236.0 1093.5,232.4 C1094.4,228.7 1095.3,224.8 1096.2,221.5 C1097.1,218.1 1098.1,215.5 1098.9,212.4 C1099.7,209.2 1100.3,205.4 1101.2,202.4 C1102.1,199.3 1103.4,196.2 1104.4,194.2 C1105.3,192.2 1106.2,190.2 1107.1,190.5 C1108.0,190.8 1108.9,192.7 1109.8,196.0 C1110.7,199.3 1111.6,205.4 1112.5,210.5 C1113.5,215.7 1114.5,222.4 1115.3,226.9 C1116.0,231.5 1116.5,235.4 1117.1,237.8 C1117.7,240.2 1118.3,242.4 1118.9,241.5 C1119.5,240.5 1120.1,236.9 1120.7,232.4 C1121.3,227.8 1121.8,220.8 1122.5,214.2 C1123.3,207.5 1124.4,200.8 1125.3,192.4 C1126.2,183.9 1127.1,171.2 1128.0,163.3 C1128.9,155.4 1129.8,150.2 1130.7,145.1 C1131.6,139.9 1132.5,134.8 1133.5,132.4 C1134.4,129.9 1135.3,131.2 1136.2,130.5 C1137.1,129.9 1138.2,129.9 1138.9,128.7 C1139.7,127.5 1140.0,124.8 1140.7,123.3 C1141.4,121.8 1142.3,119.0 1143.1,119.6 C1143.8,120.2 1144.6,123.9 1145.3,126.9 C1145.9,129.9 1146.5,134.2 1147.1,137.8 C1147.7,141.5 1148.2,144.5 1148.9,148.7 C1149.7,153.0 1150.7,158.4 1151.6,163.3 C1152.5,168.1 1153.6,173.3 1154.4,177.8 C1155.1,182.4 1155.1,186.2 1156.2,190.5 C1157.3,194.9 1159.5,204.6 1160.9,204.2 C1162.3,203.7 1163.5,191.6 1164.5,187.8 C1165.6,184.0 1166.4,183.0 1167.3,181.5 C1168.2,179.9 1169.1,178.9 1170.0,178.7 C1170.9,178.6 1171.8,179.5 1172.7,180.5 C1173.6,181.6 1174.5,183.1 1175.5,185.1 C1176.4,187.1 1177.3,189.8 1178.2,192.4 C1179.1,194.9 1180.0,199.6 1180.9,200.5 C1181.8,201.5 1182.9,198.6 1183.6,197.8 C1184.4,197.1 1184.8,196.0 1185.5,196.0 C1186.1,196.0 1186.2,195.1 1187.3,197.8 C1188.3,200.5 1190.8,209.9 1191.8,212.4 C1192.9,214.8 1193.0,213.3 1193.6,212.4 C1194.2,211.5 1194.8,210.2 1195.5,206.9 C1196.1,203.6 1196.5,196.6 1197.3,192.4 C1198.0,188.1 1199.1,185.1 1200.0,181.5 C1200.9,177.8 1201.8,173.6 1202.7,170.5 C1203.6,167.5 1204.7,164.8 1205.5,163.3 C1206.2,161.8 1206.7,161.2 1207.3,161.5 C1207.9,161.8 1208.3,163.0 1209.1,165.1 C1209.8,167.2 1210.9,170.5 1211.8,174.2 C1212.7,177.8 1213.6,182.7 1214.5,186.9 C1215.5,191.2 1216.5,197.1 1217.3,199.6 C1218.0,202.1 1218.5,203.4 1219.1,201.9 C1219.7,200.4 1220.2,196.4 1220.9,190.5 C1221.7,184.7 1222.7,173.9 1223.6,166.9 C1224.5,159.9 1225.5,153.0 1226.4,148.7 C1227.3,144.5 1228.2,144.2 1229.1,141.5 C1230.0,138.7 1231.0,134.9 1231.8,132.4 C1232.7,129.8 1233.4,126.0 1234.2,126.0 C1234.9,126.0 1235.7,129.5 1236.4,132.4 C1237.0,135.2 1237.6,139.6 1238.2,143.3 C1238.8,146.9 1239.4,151.6 1240.0,154.2 C1240.6,156.8 1241.2,158.4 1241.8,158.7 C1242.4,159.0 1243.0,158.3 1243.6,156.0 C1244.2,153.7 1244.9,148.0 1245.5,145.1 C1246.0,142.2 1246.7,139.8 1246.9,138.7" fill="none" stroke="#0000ff" stroke-width="2.2" stroke-linejoin="round" stroke-linecap="round"/>
<path d="M177.9,202.0 C178.6,201.7 180.2,201.0 181.8,200.0 C183.4,199.1 185.9,199.2 187.5,196.2 C189.2,193.2 190.2,185.1 191.4,181.8 C192.6,178.4 193.6,176.3 194.8,176.0 C195.9,175.7 196.9,178.1 198.1,179.8 C199.3,181.6 200.9,186.6 202.0,186.6 C203.1,186.6 204.1,181.4 204.9,179.8 C205.7,178.2 206.1,175.8 206.8,176.9 C207.5,178.1 208.4,183.7 209.2,186.6 C210.0,189.5 210.8,192.8 211.6,194.3 C212.4,195.7 213.2,196.5 214.0,195.2 C214.8,194.0 215.7,188.8 216.4,186.6 C217.1,184.3 217.5,181.6 218.3,181.8 C219.2,181.9 220.3,185.9 221.2,187.5 C222.2,189.1 223.2,191.7 224.1,191.4 C225.1,191.1 226.1,187.2 227.0,185.6 C227.9,184.0 228.5,181.6 229.4,181.8 C230.4,181.9 231.7,185.0 232.8,186.6 C233.8,188.2 234.8,190.1 235.7,191.4 C236.6,192.7 237.4,194.6 238.1,194.3 C238.8,194.0 239.4,190.5 240.0,189.5 C240.6,188.4 240.4,183.9 241.4,188.0 C242.4,192.1 244.8,205.3 246.0,214.2 C247.2,223.1 248.0,233.6 248.7,241.5 C249.5,249.3 249.9,256.6 250.5,261.5 C251.2,266.3 251.6,268.7 252.4,270.5 C253.1,272.4 254.0,272.5 255.1,272.4 C256.2,272.2 257.7,270.8 258.7,269.6 C259.8,268.4 260.4,267.1 261.5,265.1 C262.5,263.1 264.0,259.6 265.1,257.8 C266.2,256.0 266.9,254.6 267.8,254.2 C268.7,253.7 269.6,256.9 270.5,255.1 C271.5,253.3 272.4,246.9 273.3,243.3 C274.2,239.6 274.9,235.5 276.0,233.3 C277.1,231.0 278.6,231.0 279.6,229.6 C280.7,228.3 281.5,227.2 282.4,225.1 C283.3,223.0 284.2,218.7 285.1,216.9 C286.0,215.1 286.9,214.2 287.8,214.2 C288.7,214.2 289.6,216.6 290.5,216.9 C291.5,217.2 292.5,217.1 293.3,216.0 C294.0,214.9 294.5,213.0 295.1,210.5 C295.7,208.1 296.2,205.1 296.9,201.5 C297.7,197.8 298.7,191.6 299.6,188.7 C300.5,185.8 301.5,183.9 302.4,184.2 C303.3,184.5 304.0,190.1 305.1,190.5 C306.2,191.0 307.4,189.3 308.7,186.9 C310.1,184.5 311.9,177.5 313.3,176.0 C314.6,174.5 315.8,177.1 316.9,177.8 C318.0,178.6 318.6,180.5 319.6,180.5 C320.7,180.5 322.2,178.4 323.3,177.8 C324.3,177.2 325.1,178.0 326.0,176.9 C326.9,175.8 327.8,171.9 328.7,171.5 C329.6,171.0 330.5,174.3 331.5,174.2 C332.4,174.0 333.3,170.7 334.2,170.5 C335.1,170.4 335.8,172.1 336.9,173.3 C338.0,174.5 339.5,176.2 340.5,177.8 C341.6,179.5 342.4,180.5 343.3,183.3 C344.2,186.0 345.2,190.2 346.0,194.2 C346.8,198.1 347.2,202.4 347.8,206.9 C348.4,211.5 349.0,216.3 349.6,221.5 C350.2,226.6 350.7,234.2 351.5,237.8 C352.2,241.5 353.3,242.7 354.2,243.3 C355.1,243.9 356.0,241.3 356.9,241.5 C357.8,241.6 358.9,242.4 359.6,244.2 C360.4,246.0 360.7,249.0 361.5,252.4 C362.2,255.7 363.3,262.2 364.2,264.2 C365.1,266.2 366.0,264.3 366.9,264.2 C367.8,264.0 368.9,263.1 369.6,263.3 C370.4,263.4 370.7,265.4 371.5,265.1 C372.2,264.8 373.3,263.0 374.2,261.5 C375.1,259.9 376.2,257.2 376.9,256.0 C377.7,254.8 378.1,254.8 378.7,254.2 C379.3,253.6 379.9,254.2 380.5,252.4 C381.2,250.5 381.8,246.6 382.4,243.3 C383.0,239.9 383.6,236.0 384.2,232.4 C384.8,228.7 385.4,225.7 386.0,221.5 C386.6,217.2 387.1,210.1 387.8,206.9 C388.6,203.7 389.6,203.6 390.5,202.4 C391.5,201.2 392.5,202.5 393.7,199.6 C394.9,196.8 396.5,191.5 397.8,185.1 C399.1,178.7 400.2,165.7 401.5,161.5 C402.7,157.2 404.0,159.6 405.1,159.6 C406.2,159.6 406.8,160.8 407.8,161.5 C408.9,162.1 410.2,162.4 411.5,163.3 C412.7,164.2 413.7,165.4 415.1,166.9 C416.5,168.4 418.4,172.4 419.6,172.4 C420.8,172.4 421.3,167.8 422.4,166.9 C423.5,166.0 425.1,165.1 426.2,166.9 C427.3,168.7 428.2,174.5 429.1,177.8 C430.0,181.2 430.9,184.5 431.8,186.9 C432.7,189.3 433.6,192.1 434.5,192.4 C435.5,192.7 436.2,190.1 437.3,188.7 C438.3,187.4 439.8,184.8 440.9,184.2 C442.0,183.6 442.7,184.6 443.6,185.1 C444.5,185.5 445.5,185.7 446.4,186.9 C447.3,188.1 448.2,190.5 449.1,192.4 C450.0,194.2 451.1,195.8 451.8,197.8 C452.6,199.8 452.9,204.5 453.6,204.2 C454.4,203.9 455.5,197.5 456.4,196.0 C457.3,194.5 458.2,195.4 459.1,195.1 C460.0,194.8 460.9,194.6 461.8,194.2 C462.7,193.7 463.6,192.8 464.5,192.4 C465.5,191.9 466.5,190.8 467.3,191.5 C468.0,192.1 468.2,191.6 469.1,196.0 C470.0,200.4 471.8,211.2 472.7,217.8 C473.6,224.5 473.9,229.9 474.5,236.0 C475.2,242.1 475.8,248.4 476.4,254.2 C477.0,259.9 477.4,265.7 478.2,270.5 C478.9,275.4 480.0,282.1 480.9,283.3 C481.8,284.5 482.9,280.2 483.6,277.8 C484.4,275.4 484.8,272.7 485.5,268.7 C486.1,264.8 486.7,259.0 487.3,254.2 C487.9,249.3 488.3,244.5 489.1,239.6 C489.8,234.8 490.9,229.0 491.8,225.1 C492.7,221.2 493.6,218.3 494.5,216.0 C495.5,213.7 496.5,212.4 497.3,211.5 C498.0,210.5 498.5,209.8 499.1,210.5 C499.7,211.3 500.3,213.6 500.9,216.0 C501.5,218.4 502.1,222.4 502.7,225.1 C503.3,227.8 503.8,230.2 504.5,232.4 C505.3,234.5 506.4,235.4 507.3,237.8 C508.2,240.2 509.1,244.2 510.0,246.9 C510.9,249.6 512.0,253.3 512.7,254.2 C513.5,255.1 513.9,253.9 514.5,252.4 C515.2,250.8 515.6,247.5 516.4,245.1 C517.1,242.7 518.2,239.6 519.1,237.8 C520.0,236.0 520.9,235.7 521.8,234.2 C522.7,232.7 523.8,230.8 524.5,228.7 C525.3,226.6 525.8,223.6 526.4,221.5 C527.0,219.3 527.4,217.8 528.2,216.0 C528.9,214.2 530.0,212.4 530.9,210.5 C531.8,208.7 532.9,206.4 533.6,205.1 C534.4,203.8 534.7,202.8 535.5,202.8 C536.2,202.8 537.3,203.8 538.2,205.1 C539.1,206.4 540.0,208.4 540.9,210.5 C541.8,212.7 542.7,215.2 543.6,217.8 C544.5,220.4 545.5,223.0 546.4,226.0 C547.3,229.0 548.2,232.5 549.1,236.0 C550.0,239.5 550.9,245.2 551.8,246.9 C552.7,248.6 553.8,247.5 554.5,246.0 C555.3,244.5 555.8,241.3 556.4,237.8 C557.0,234.3 557.6,229.0 558.2,225.1 C558.8,221.2 559.4,216.9 560.0,214.2 C560.6,211.5 561.0,211.1 561.8,208.7 C562.7,206.4 563.9,202.8 565.0,200.1 C566.1,197.4 567.2,195.8 568.2,192.4 C569.2,189.0 570.0,183.3 570.9,179.6 C571.8,176.0 572.7,173.1 573.6,170.5 C574.5,168.0 575.5,165.1 576.4,164.2 C577.3,163.3 578.2,164.3 579.1,165.1 C580.0,165.8 580.9,167.5 581.8,168.7 C582.7,169.9 583.6,171.0 584.5,172.4 C585.5,173.7 586.4,175.5 587.3,176.9 C588.2,178.3 589.1,180.1 590.0,180.5 C590.9,181.0 591.8,180.4 592.7,179.6 C593.6,178.9 594.7,178.4 595.5,176.0 C596.2,173.6 596.5,168.7 597.3,165.1 C598.0,161.5 599.1,156.6 600.0,154.2 C600.9,151.8 601.8,150.7 602.7,150.5 C603.6,150.4 604.7,151.2 605.5,153.3 C606.2,155.4 606.7,159.2 607.3,163.3 C607.9,167.4 608.5,172.7 609.1,177.8 C609.7,183.0 609.8,186.3 610.9,194.2 C612.0,202.1 614.4,216.9 615.5,225.1 C616.5,233.3 616.7,237.2 617.3,243.3 C617.9,249.3 618.5,255.7 619.1,261.5 C619.7,267.2 620.3,271.8 620.9,277.8 C621.5,283.9 622.1,290.8 622.7,297.8 C623.3,304.8 623.9,314.3 624.5,319.6 C625.2,324.9 625.8,328.7 626.4,329.6 C627.0,330.5 627.6,327.4 628.2,325.1 C628.8,322.8 629.4,319.3 630.0,316.0 C630.6,312.7 631.1,309.0 631.8,305.1 C632.6,301.2 633.6,296.0 634.5,292.4 C635.5,288.7 636.4,286.0 637.3,283.3 C638.2,280.5 639.1,278.4 640.0,276.0 C640.9,273.6 642.0,272.1 642.7,268.7 C643.5,265.4 643.9,260.8 644.5,256.0 C645.2,251.2 645.8,245.4 646.4,239.6 C647.0,233.9 647.6,226.9 648.2,221.5 C648.8,216.0 649.2,212.4 650.0,206.9 C650.8,201.5 651.8,192.1 652.7,188.7 C653.6,185.4 654.5,186.5 655.5,186.9 C656.4,187.4 657.3,189.9 658.2,191.5 C659.1,193.0 660.0,194.6 660.9,196.0 C661.8,197.4 662.7,199.6 663.6,199.6 C664.5,199.6 665.3,198.4 666.4,196.0 C667.4,193.6 669.2,187.8 670.0,185.1 C670.8,182.4 670.6,183.3 671.3,179.6 C671.9,176.0 673.2,167.8 674.0,163.3 C674.8,158.7 675.1,154.9 675.8,152.4 C676.6,149.8 677.6,148.1 678.5,147.8 C679.5,147.5 680.4,149.2 681.3,150.5 C682.2,151.9 683.1,153.9 684.0,156.0 C684.9,158.1 686.0,160.8 686.7,163.3 C687.5,165.7 687.8,167.5 688.5,170.5 C689.3,173.6 690.5,179.6 691.3,181.5 C692.0,183.3 692.3,183.3 693.1,181.5 C693.8,179.6 694.9,173.3 695.8,170.5 C696.7,167.8 697.6,166.3 698.5,165.1 C699.5,163.9 700.4,163.4 701.3,163.3 C702.2,163.1 703.1,164.5 704.0,164.2 C704.9,163.9 705.8,160.4 706.7,161.5 C707.6,162.5 708.5,167.8 709.5,170.5 C710.4,173.3 711.1,175.4 712.2,177.8 C713.2,180.2 714.8,184.8 715.8,185.1 C716.9,185.4 717.6,181.5 718.5,179.6 C719.5,177.8 720.4,175.4 721.3,174.2 C722.2,173.0 723.1,171.5 724.0,172.4 C724.9,173.3 725.8,177.2 726.7,179.6 C727.6,182.1 728.5,184.5 729.5,186.9 C730.4,189.3 731.1,193.6 732.2,194.2 C733.2,194.8 734.8,191.5 735.8,190.5 C736.9,189.6 737.6,188.9 738.5,188.7 C739.5,188.6 740.5,188.7 741.3,189.6 C742.0,190.5 742.4,191.3 743.1,194.2 C743.8,197.1 744.6,202.1 745.4,206.9 C746.1,211.8 746.8,219.2 747.6,223.3 C748.5,227.4 749.5,230.7 750.4,231.5 C751.3,232.2 752.3,229.8 753.1,227.8 C753.8,225.8 754.3,222.5 754.9,219.6 C755.5,216.8 756.0,214.8 756.7,210.5 C757.5,206.3 758.5,198.1 759.5,194.2 C760.4,190.2 761.3,188.7 762.2,186.9 C763.1,185.1 763.8,183.7 764.9,183.3 C766.0,182.8 767.3,183.9 768.5,184.2 C769.8,184.5 771.0,184.8 772.2,185.1 C773.4,185.4 774.8,185.7 775.8,186.0 C776.9,186.3 777.5,187.7 778.5,186.9 C779.6,186.2 781.1,182.5 782.2,181.5 C783.2,180.4 784.0,181.5 784.9,180.5 C785.8,179.6 786.9,177.4 787.6,176.0 C788.4,174.6 788.8,171.8 789.5,172.4 C790.1,173.0 790.5,177.5 791.3,179.6 C792.0,181.8 793.1,183.9 794.0,185.1 C794.9,186.3 795.8,187.1 796.7,186.9 C797.6,186.8 798.5,184.8 799.5,184.2 C800.4,183.6 801.3,182.5 802.2,183.3 C803.1,184.0 804.0,186.9 804.9,188.7 C805.8,190.5 806.7,193.0 807.6,194.2 C808.5,195.4 809.3,196.0 810.4,196.0 C811.4,196.0 812.8,194.8 814.0,194.2 C815.2,193.6 816.6,193.0 817.6,192.4 C818.7,191.8 819.5,192.4 820.4,190.5 C821.3,188.7 822.2,185.1 823.1,181.5 C824.0,177.8 825.1,172.1 825.8,168.7 C826.6,165.4 827.0,162.8 827.6,161.5 C828.2,160.1 828.8,159.6 829.5,160.5 C830.1,161.5 830.7,164.6 831.3,166.9 C831.9,169.2 832.3,172.4 833.1,174.2 C833.8,176.0 834.9,176.6 835.8,177.8 C836.7,179.0 837.6,179.6 838.5,181.5 C839.5,183.3 840.4,186.6 841.3,188.7 C842.2,190.8 843.1,191.2 844.0,194.2 C844.9,197.2 846.0,203.0 846.7,206.9 C847.5,210.8 847.9,216.3 848.5,217.8 C849.2,219.3 849.6,217.5 850.4,216.0 C851.1,214.5 852.1,211.5 853.1,208.7 C854.1,206.0 855.2,202.1 856.3,199.6 C857.3,197.2 858.5,195.4 859.5,194.2 C860.4,193.0 861.3,192.7 862.2,192.4 C863.1,192.1 864.0,193.6 864.9,192.4 C865.8,191.2 866.7,188.1 867.6,185.1 C868.5,182.1 869.5,178.4 870.4,174.2 C871.3,169.9 872.2,164.5 873.1,159.6 C874.0,154.8 874.9,149.9 875.8,145.1 C876.7,140.2 877.8,133.0 878.5,130.5 C879.3,128.1 879.8,129.3 880.4,130.5 C881.0,131.8 881.6,134.2 882.2,137.8 C882.8,141.5 883.4,148.1 884.0,152.4 C884.6,156.6 885.1,159.6 885.8,163.3 C886.6,166.9 887.6,170.2 888.5,174.2 C889.5,178.1 890.5,184.2 891.3,186.9 C892.0,189.6 892.5,190.2 893.1,190.5 C893.7,190.8 894.3,190.8 894.9,188.7 C895.5,186.6 896.0,182.1 896.7,177.8 C897.5,173.6 898.5,167.5 899.5,163.3 C900.4,159.0 901.4,153.6 902.2,152.4 C902.9,151.2 903.2,154.2 904.0,156.0 C904.8,157.8 905.8,161.2 906.7,163.3 C907.6,165.4 908.5,166.9 909.5,168.7 C910.4,170.5 911.4,173.0 912.2,174.2 C912.9,175.4 913.5,174.8 914.0,176.0 C914.5,177.2 914.6,179.6 915.3,181.5 C915.9,183.3 917.2,184.5 918.0,186.9 C918.8,189.3 919.1,192.4 919.8,196.0 C920.6,199.6 921.6,204.8 922.5,208.7 C923.5,212.7 924.2,216.8 925.3,219.6 C926.3,222.5 927.7,225.4 928.9,226.0 C930.1,226.6 931.5,224.9 932.5,223.3 C933.6,221.6 934.5,218.7 935.3,216.0 C936.0,213.3 936.3,210.2 937.1,206.9 C937.8,203.6 938.9,199.3 939.8,196.0 C940.7,192.7 941.6,190.8 942.5,186.9 C943.5,183.0 944.4,177.8 945.3,172.4 C946.2,166.9 947.1,159.9 948.0,154.2 C948.9,148.4 950.0,141.9 950.7,137.8 C951.4,133.7 951.6,129.6 952.2,129.6 C952.8,129.6 953.5,134.9 954.4,137.8 C955.2,140.7 956.2,143.9 957.1,146.9 C958.0,149.9 958.9,153.0 959.8,156.0 C960.7,159.0 961.6,162.8 962.5,165.1 C963.5,167.4 964.4,169.3 965.3,169.6 C966.2,169.9 967.1,168.3 968.0,166.9 C968.9,165.5 969.8,163.9 970.7,161.5 C971.6,159.0 972.6,155.4 973.5,152.4 C974.3,149.3 974.9,144.5 975.6,143.3 C976.4,142.1 977.3,143.9 978.0,145.1 C978.7,146.3 979.1,149.0 979.8,150.5 C980.6,152.1 981.6,153.0 982.5,154.2 C983.5,155.4 984.4,155.7 985.3,157.8 C986.2,159.9 987.1,163.9 988.0,166.9 C988.9,169.9 989.8,172.7 990.7,176.0 C991.6,179.3 992.5,184.5 993.5,186.9 C994.4,189.3 995.4,191.5 996.2,190.5 C996.9,189.6 997.4,184.8 998.0,181.5 C998.6,178.1 999.2,172.5 999.8,170.5 C1000.4,168.6 1001.0,169.3 1001.6,169.6 C1002.2,169.9 1002.7,171.3 1003.5,172.4 C1004.2,173.4 1005.3,176.0 1006.2,176.0 C1007.1,176.0 1007.8,173.1 1008.9,172.4 C1010.0,171.6 1011.3,171.6 1012.5,171.5 C1013.8,171.3 1015.1,171.6 1016.2,171.5 C1017.2,171.3 1018.0,170.5 1018.9,170.5 C1019.8,170.5 1020.7,172.7 1021.6,171.5 C1022.5,170.2 1023.6,165.8 1024.4,163.3 C1025.1,160.7 1025.6,156.9 1026.2,156.0 C1026.8,155.1 1027.4,155.1 1028.0,157.8 C1028.6,160.5 1029.2,167.8 1029.8,172.4 C1030.4,176.9 1031.0,181.9 1031.6,185.1 C1032.2,188.3 1032.8,191.2 1033.5,191.5 C1034.1,191.8 1034.5,188.9 1035.3,186.9 C1036.0,184.9 1037.2,181.8 1038.0,179.6 C1038.8,177.5 1039.1,175.4 1039.8,174.2 C1040.6,173.0 1041.8,171.8 1042.5,172.4 C1043.3,173.0 1043.8,176.3 1044.4,177.8 C1045.0,179.3 1045.6,180.5 1046.2,181.5 C1046.8,182.4 1047.2,183.3 1048.0,183.3 C1048.8,183.3 1050.0,180.8 1050.7,181.5 C1051.5,182.1 1051.9,185.1 1052.5,186.9 C1053.2,188.7 1053.6,189.9 1054.4,192.4 C1055.1,194.8 1056.0,198.9 1057.1,201.5 C1058.2,204.0 1059.7,206.3 1060.7,207.8 C1061.8,209.3 1062.5,208.3 1063.5,210.5 C1064.4,212.8 1065.3,217.2 1066.2,221.5 C1067.1,225.7 1068.2,231.5 1068.9,236.0 C1069.7,240.5 1070.0,245.1 1070.7,248.7 C1071.5,252.4 1072.5,254.5 1073.5,257.8 C1074.4,261.2 1075.3,265.7 1076.2,268.7 C1077.1,271.8 1078.0,276.3 1078.9,276.0 C1079.8,275.7 1080.7,271.5 1081.6,266.9 C1082.5,262.4 1083.5,254.5 1084.4,248.7 C1085.3,243.0 1086.2,237.2 1087.1,232.4 C1088.0,227.5 1088.9,223.6 1089.8,219.6 C1090.7,215.7 1091.8,212.7 1092.5,208.7 C1093.3,204.8 1093.5,199.6 1094.4,196.0 C1095.3,192.4 1096.8,188.7 1098.0,186.9 C1099.2,185.1 1100.4,185.5 1101.6,185.1 C1102.8,184.6 1104.2,183.9 1105.3,184.2 C1106.3,184.5 1107.1,185.2 1108.0,186.9 C1108.9,188.6 1109.7,191.8 1110.7,194.2 C1111.7,196.6 1113.0,200.4 1113.9,201.5 C1114.8,202.5 1115.3,202.1 1116.2,200.5 C1117.0,199.0 1118.0,195.5 1118.9,192.4 C1119.8,189.2 1120.7,185.4 1121.6,181.5 C1122.5,177.5 1123.5,172.1 1124.4,168.7 C1125.3,165.4 1126.2,163.0 1127.1,161.5 C1128.0,159.9 1128.9,159.8 1129.8,159.6 C1130.7,159.5 1131.6,160.2 1132.5,160.5 C1133.5,160.8 1134.4,161.6 1135.3,161.5 C1136.2,161.3 1137.2,160.2 1138.0,159.6 C1138.8,159.0 1139.2,157.7 1139.8,157.8 C1140.4,158.0 1141.0,159.0 1141.6,160.5 C1142.2,162.1 1142.8,164.9 1143.5,166.9 C1144.1,168.9 1144.5,170.8 1145.3,172.4 C1146.0,173.9 1147.1,175.4 1148.0,176.0 C1148.9,176.6 1150.0,175.1 1150.7,176.0 C1151.5,176.9 1151.9,179.3 1152.5,181.5 C1153.2,183.6 1153.8,186.3 1154.4,188.7 C1155.0,191.2 1155.6,193.4 1156.2,196.0 C1156.8,198.6 1157.3,205.1 1158.1,204.2 C1158.9,203.3 1160.1,193.4 1160.9,190.5 C1161.7,187.7 1162.0,188.4 1162.7,186.9 C1163.5,185.4 1164.5,182.1 1165.5,181.5 C1166.4,180.8 1167.3,182.4 1168.2,183.3 C1169.1,184.2 1170.0,185.4 1170.9,186.9 C1171.8,188.4 1172.7,190.5 1173.6,192.4 C1174.5,194.2 1175.5,195.8 1176.4,197.8 C1177.3,199.9 1178.3,203.8 1179.1,204.6 C1179.8,205.5 1180.3,204.9 1180.9,202.8 C1181.5,200.8 1182.0,195.9 1182.7,192.4 C1183.5,188.8 1184.5,184.5 1185.5,181.5 C1186.4,178.4 1187.3,176.6 1188.2,174.2 C1189.1,171.8 1190.0,169.3 1190.9,166.9 C1191.8,164.5 1192.7,162.4 1193.6,159.6 C1194.5,156.9 1195.5,153.7 1196.4,150.5 C1197.3,147.4 1198.3,142.4 1199.1,140.5 C1199.8,138.7 1200.3,138.9 1200.9,139.6 C1201.5,140.4 1202.1,142.7 1202.7,145.1 C1203.3,147.5 1203.8,150.8 1204.5,154.2 C1205.3,157.5 1206.4,162.1 1207.3,165.1 C1208.2,168.1 1209.1,170.8 1210.0,172.4 C1210.9,173.9 1211.8,174.8 1212.7,174.2 C1213.6,173.6 1214.5,171.2 1215.5,168.7 C1216.4,166.3 1217.3,163.3 1218.2,159.6 C1219.1,156.0 1220.0,150.8 1220.9,146.9 C1221.8,143.0 1222.7,137.5 1223.6,136.0 C1224.5,134.5 1225.5,137.2 1226.4,137.8 C1227.3,138.4 1228.2,139.9 1229.1,139.6 C1230.0,139.3 1230.9,136.9 1231.8,136.0 C1232.7,135.1 1233.6,134.3 1234.5,134.2 C1235.5,134.0 1236.4,135.7 1237.3,135.1 C1238.2,134.5 1239.1,131.9 1240.0,130.5 C1240.9,129.2 1241.8,128.1 1242.7,126.9 C1243.6,125.7 1244.8,124.2 1245.5,123.3 C1246.2,122.4 1246.7,121.8 1246.9,121.5" fill="none" stroke="#78c24c" stroke-width="2.2" stroke-linejoin="round" stroke-linecap="round"/>
<path d="M178.4,201.3 C179.3,201.8 182.3,203.7 183.7,204.4 C185.1,205.1 185.5,204.9 186.6,205.3 C187.7,205.7 189.0,207.3 190.4,206.8 C191.9,206.3 193.6,203.4 195.2,202.5 C196.9,201.5 198.8,201.4 200.1,201.0 C201.3,200.6 201.8,201.2 202.9,200.0 C204.1,198.9 205.4,196.2 206.8,194.3 C208.2,192.3 209.8,190.7 211.6,188.5 C213.4,186.3 215.8,182.5 217.4,180.8 C219.0,179.1 219.8,179.4 221.2,178.4 C222.7,177.4 224.6,175.7 226.0,175.0 C227.5,174.4 228.8,174.5 229.9,174.5 C231.0,174.6 231.7,174.6 232.8,175.5 C233.9,176.4 235.2,178.2 236.6,179.8 C238.1,181.5 240.2,183.2 241.4,185.6 C242.7,188.0 243.3,190.6 244.2,194.2 C245.1,197.7 246.0,202.7 246.9,206.9 C247.8,211.2 248.7,215.1 249.6,219.6 C250.5,224.2 251.3,229.0 252.4,234.2 C253.4,239.3 254.8,245.7 256.0,250.5 C257.2,255.4 258.4,259.6 259.6,263.3 C260.8,266.9 262.2,270.8 263.3,272.4 C264.3,273.9 265.1,273.0 266.0,272.4 C266.9,271.8 267.7,270.8 268.7,268.7 C269.8,266.6 271.2,262.7 272.4,259.6 C273.6,256.6 274.8,252.7 276.0,250.5 C277.2,248.4 278.1,248.7 279.6,246.9 C281.2,245.1 283.3,242.1 285.1,239.6 C286.9,237.2 288.9,234.5 290.5,232.4 C292.2,230.2 293.9,229.0 295.1,226.9 C296.3,224.8 296.8,223.0 297.8,219.6 C298.9,216.3 299.9,211.2 301.5,206.9 C303.0,202.7 304.8,198.7 306.9,194.2 C309.0,189.6 311.8,183.9 314.2,179.6 C316.6,175.4 319.3,171.8 321.5,168.7 C323.6,165.7 325.1,164.2 326.9,161.5 C328.7,158.7 330.2,154.9 332.4,152.4 C334.5,149.8 337.8,146.6 339.6,146.0 C341.5,145.4 341.9,146.8 343.3,148.7 C344.6,150.7 346.3,154.8 347.8,157.8 C349.3,160.8 350.8,163.3 352.4,166.9 C353.9,170.5 355.4,176.0 356.9,179.6 C358.4,183.3 359.8,183.6 361.5,188.7 C363.1,193.9 365.4,205.1 366.9,210.5 C368.4,216.0 369.3,217.8 370.5,221.5 C371.8,225.1 373.0,229.2 374.2,232.4 C375.4,235.5 376.6,238.6 377.8,240.5 C379.0,242.5 380.2,244.6 381.5,244.2 C382.7,243.7 383.9,240.7 385.1,237.8 C386.3,234.9 387.5,231.2 388.7,226.9 C389.9,222.7 391.3,216.6 392.4,212.4 C393.4,208.1 394.2,206.6 395.1,201.5 C396.0,196.3 396.5,189.0 397.8,181.5 C399.2,173.9 401.5,162.7 403.3,156.0 C405.1,149.3 406.6,145.4 408.7,141.5 C410.8,137.5 413.1,135.4 416.0,132.4 C418.9,129.3 423.7,124.6 426.2,123.3 C428.7,121.9 428.9,123.8 430.9,124.2 C432.9,124.5 435.8,124.7 438.2,125.5 C440.6,126.2 443.3,127.6 445.5,128.7 C447.6,129.9 449.4,131.2 450.9,132.4 C452.4,133.5 453.2,134.6 454.5,135.6 C455.9,136.7 457.7,137.5 459.1,138.7 C460.5,140.0 461.5,141.5 462.7,143.3 C463.9,145.1 465.2,147.8 466.4,149.6 C467.6,151.5 468.9,151.9 470.0,154.2 C471.1,156.5 471.8,159.9 472.7,163.3 C473.6,166.6 474.5,170.5 475.5,174.2 C476.4,177.8 477.3,181.5 478.2,185.1 C479.1,188.7 480.0,192.7 480.9,196.0 C481.8,199.3 482.6,202.4 483.6,205.1 C484.7,207.8 486.1,210.5 487.3,212.4 C488.5,214.2 489.7,215.5 490.9,216.0 C492.1,216.5 493.3,215.7 494.5,215.1 C495.8,214.5 497.1,212.8 498.2,212.4 C499.2,211.9 499.8,211.8 500.9,212.4 C502.0,213.0 503.2,214.5 504.5,216.0 C505.9,217.5 507.7,219.8 509.1,221.5 C510.5,223.1 511.5,224.8 512.7,226.0 C513.9,227.2 515.0,228.0 516.4,228.7 C517.7,229.5 519.4,230.1 520.9,230.5 C522.4,231.0 523.9,231.0 525.5,231.5 C527.0,231.9 528.5,232.5 530.0,233.3 C531.5,234.0 533.0,234.8 534.5,236.0 C536.1,237.2 537.6,238.7 539.1,240.5 C540.6,242.4 542.3,244.3 543.6,246.9 C545.0,249.5 546.1,253.0 547.3,256.0 C548.5,259.0 549.7,262.5 550.9,265.1 C552.1,267.7 553.3,269.9 554.5,271.5 C555.8,273.0 557.0,274.0 558.2,274.5 C559.4,275.1 560.6,275.2 561.8,274.5 C563.0,273.9 564.2,272.4 565.5,270.5 C566.7,268.7 567.9,266.0 569.1,263.3 C570.3,260.5 571.5,256.9 572.7,254.2 C573.9,251.5 575.2,249.3 576.4,246.9 C577.6,244.5 578.8,241.6 580.0,239.6 C581.2,237.7 582.4,236.3 583.6,235.1 C584.8,233.9 586.1,233.4 587.3,232.4 C588.5,231.3 589.7,229.9 590.9,228.7 C592.1,227.5 593.2,226.5 594.5,225.1 C595.9,223.7 597.7,222.1 599.1,220.5 C600.5,219.0 601.5,217.3 602.7,216.0 C603.9,214.7 605.3,213.0 606.4,212.7 C607.4,212.4 608.2,212.7 609.1,214.2 C610.0,215.6 610.9,218.4 611.8,221.5 C612.7,224.5 613.6,228.7 614.5,232.4 C615.5,236.0 616.4,238.7 617.3,243.3 C618.2,247.8 619.1,254.5 620.0,259.6 C620.9,264.8 621.8,269.0 622.7,274.2 C623.6,279.3 624.5,285.7 625.5,290.5 C626.4,295.4 627.3,299.0 628.2,303.3 C629.1,307.5 630.0,312.4 630.9,316.0 C631.8,319.6 632.7,323.0 633.6,325.1 C634.5,327.2 635.5,329.0 636.4,328.7 C637.3,328.4 638.2,326.0 639.1,323.3 C640.0,320.5 640.9,316.0 641.8,312.4 C642.7,308.7 643.6,305.1 644.5,301.5 C645.5,297.8 646.4,294.2 647.3,290.5 C648.2,286.9 649.1,283.3 650.0,279.6 C650.9,276.0 651.7,272.1 652.7,268.7 C653.8,265.4 655.2,262.7 656.4,259.6 C657.6,256.6 658.8,253.6 660.0,250.5 C661.2,247.5 662.4,244.8 663.6,241.5 C664.8,238.1 666.2,233.9 667.3,230.5 C668.4,227.2 669.2,224.8 670.2,221.5 C671.2,218.1 671.8,215.1 673.1,210.5 C674.3,206.0 676.4,199.0 677.6,194.2 C678.8,189.3 679.3,185.1 680.4,181.5 C681.4,177.8 682.8,174.8 684.0,172.4 C685.2,169.9 686.4,168.6 687.6,166.9 C688.8,165.2 690.1,163.9 691.3,162.4 C692.5,160.8 693.7,159.8 694.9,157.8 C696.1,155.8 697.3,153.0 698.5,150.5 C699.8,148.1 701.0,145.4 702.2,143.3 C703.4,141.2 704.6,139.3 705.8,137.8 C707.0,136.3 708.2,135.1 709.5,134.2 C710.7,133.3 711.7,132.8 713.1,132.4 C714.5,131.9 716.3,131.9 717.6,131.5 C719.0,131.0 720.1,130.4 721.3,129.6 C722.5,128.9 723.7,127.4 724.9,126.9 C726.1,126.4 727.3,126.4 728.5,126.5 C729.8,126.7 731.0,126.8 732.2,127.8 C733.4,128.8 734.8,130.4 735.8,132.4 C736.9,134.3 737.6,137.2 738.5,139.6 C739.5,142.1 740.4,144.5 741.3,146.9 C742.2,149.3 743.1,151.8 744.0,154.2 C744.9,156.6 745.8,159.0 746.7,161.5 C747.6,163.9 748.4,166.3 749.5,168.7 C750.5,171.2 751.9,174.2 753.1,176.0 C754.3,177.8 755.5,179.3 756.7,179.6 C757.9,179.9 759.3,178.4 760.4,177.8 C761.4,177.2 762.0,175.8 763.1,176.0 C764.2,176.2 765.5,177.8 766.7,178.7 C767.9,179.6 769.2,180.5 770.4,181.5 C771.6,182.4 772.8,183.1 774.0,184.2 C775.2,185.2 776.4,186.8 777.6,187.8 C778.8,188.9 780.1,189.8 781.3,190.5 C782.5,191.3 783.7,191.5 784.9,192.4 C786.1,193.3 787.5,194.6 788.5,196.0 C789.6,197.4 790.2,198.9 791.3,201.0 C792.3,203.1 793.7,206.2 794.9,208.7 C796.1,211.2 797.3,213.9 798.5,216.0 C799.8,218.1 801.0,219.8 802.2,221.5 C803.4,223.1 804.6,224.6 805.8,226.0 C807.0,227.4 808.2,229.0 809.5,229.6 C810.7,230.2 811.9,229.8 813.1,229.6 C814.3,229.5 815.7,228.9 816.7,228.7 C817.8,228.6 818.7,229.0 819.5,228.7 C820.2,228.4 820.5,228.1 821.3,226.9 C822.0,225.7 823.1,223.3 824.0,221.5 C824.9,219.6 825.8,217.7 826.7,216.0 C827.6,214.3 828.5,212.6 829.5,211.5 C830.4,210.3 831.1,209.5 832.2,209.1 C833.2,208.7 834.8,208.8 835.8,209.1 C836.9,209.3 837.6,209.7 838.5,210.5 C839.5,211.4 840.4,212.7 841.3,214.2 C842.2,215.7 843.1,217.5 844.0,219.6 C844.9,221.8 845.8,224.8 846.7,226.9 C847.6,229.0 848.4,231.0 849.5,232.4 C850.5,233.7 852.0,234.8 853.1,235.1 C854.2,235.4 854.8,234.6 855.8,234.2 C856.9,233.7 858.2,233.1 859.5,232.4 C860.7,231.6 862.0,230.8 863.1,229.6 C864.2,228.4 864.9,227.1 865.8,225.1 C866.7,223.1 867.6,220.5 868.5,217.8 C869.5,215.1 870.4,213.0 871.3,208.7 C872.2,204.5 873.1,196.9 874.0,192.4 C874.9,187.8 875.7,185.1 876.7,181.5 C877.8,177.8 879.2,173.6 880.4,170.5 C881.6,167.5 882.8,165.1 884.0,163.3 C885.2,161.5 886.3,160.5 887.6,159.6 C889.0,158.7 890.8,158.4 892.2,157.8 C893.5,157.2 894.8,156.9 895.8,156.0 C896.9,155.1 897.6,153.9 898.5,152.4 C899.5,150.8 900.4,148.7 901.3,146.9 C902.2,145.1 902.9,143.0 904.0,141.5 C905.1,139.9 906.4,138.1 907.6,137.8 C908.8,137.5 910.2,138.6 911.3,139.6 C912.4,140.7 913.1,142.1 914.2,144.2 C915.3,146.3 916.9,149.5 918.0,152.4 C919.1,155.2 919.8,158.4 920.7,161.5 C921.6,164.5 922.5,167.5 923.5,170.5 C924.4,173.6 925.3,176.6 926.2,179.6 C927.1,182.7 928.0,186.2 928.9,188.7 C929.8,191.3 930.7,193.9 931.6,195.1 C932.5,196.3 933.5,196.8 934.4,196.0 C935.3,195.2 936.2,193.0 937.1,190.5 C938.0,188.1 938.9,184.8 939.8,181.5 C940.7,178.1 941.6,174.2 942.5,170.5 C943.5,166.9 944.4,163.3 945.3,159.6 C946.2,156.0 947.1,152.1 948.0,148.7 C948.9,145.4 949.7,142.5 950.7,139.6 C951.8,136.8 953.2,133.6 954.4,131.5 C955.6,129.3 956.8,128.3 958.0,126.9 C959.2,125.5 960.4,124.5 961.6,123.3 C962.8,122.1 964.2,121.2 965.3,119.6 C966.3,118.1 967.1,116.3 968.0,114.2 C968.9,112.1 969.8,109.3 970.7,106.9 C971.6,104.5 972.5,101.8 973.5,99.6 C974.4,97.5 975.1,95.8 976.2,94.2 C977.2,92.5 978.6,90.8 979.8,89.6 C981.0,88.5 982.2,87.6 983.5,87.5 C984.7,87.3 985.9,87.9 987.1,88.7 C988.3,89.5 989.5,91.0 990.7,92.4 C991.9,93.7 993.3,96.0 994.4,96.9 C995.4,97.8 996.2,98.1 997.1,97.8 C998.0,97.5 998.8,96.0 999.8,95.1 C1000.9,94.2 1002.2,93.1 1003.5,92.4 C1004.7,91.6 1005.9,91.2 1007.1,90.5 C1008.3,89.9 1009.5,89.5 1010.7,88.7 C1011.9,88.0 1013.2,86.7 1014.4,86.0 C1015.6,85.3 1016.8,84.9 1018.0,84.7 C1019.2,84.5 1020.4,85.0 1021.6,84.7 C1022.8,84.5 1024.1,84.2 1025.3,83.3 C1026.5,82.4 1027.7,79.6 1028.9,79.3 C1030.1,78.9 1031.3,80.4 1032.5,81.1 C1033.8,81.8 1035.0,83.0 1036.2,83.6 C1037.4,84.3 1038.6,84.2 1039.8,85.1 C1041.0,85.9 1042.4,87.2 1043.5,88.7 C1044.5,90.2 1045.3,92.4 1046.2,94.2 C1047.1,96.0 1047.8,97.8 1048.9,99.6 C1050.0,101.5 1051.3,103.3 1052.5,105.1 C1053.8,106.9 1055.1,108.4 1056.2,110.5 C1057.2,112.7 1058.0,115.1 1058.9,117.8 C1059.8,120.5 1060.7,123.3 1061.6,126.9 C1062.5,130.5 1063.5,135.1 1064.4,139.6 C1065.3,144.2 1066.2,149.0 1067.1,154.2 C1068.0,159.3 1069.1,165.4 1069.8,170.5 C1070.6,175.7 1070.9,179.0 1071.6,185.1 C1072.4,191.2 1073.6,201.2 1074.4,206.9 C1075.1,212.7 1075.6,215.7 1076.2,219.6 C1076.8,223.6 1077.4,227.2 1078.0,230.5 C1078.6,233.9 1079.1,237.1 1079.8,239.6 C1080.6,242.2 1081.6,244.6 1082.5,246.0 C1083.5,247.4 1084.4,247.8 1085.3,247.8 C1086.2,247.8 1087.1,246.8 1088.0,246.0 C1088.9,245.2 1089.7,244.6 1090.7,243.3 C1091.8,241.9 1093.2,239.3 1094.4,237.8 C1095.6,236.3 1096.8,235.0 1098.0,234.2 C1099.2,233.3 1100.6,232.7 1101.6,232.7 C1102.7,232.7 1103.5,233.5 1104.4,234.2 C1105.3,234.9 1106.2,235.8 1107.1,236.9 C1108.0,238.0 1108.8,239.5 1109.8,240.5 C1110.9,241.6 1112.2,243.0 1113.5,243.3 C1114.7,243.6 1115.9,243.3 1117.1,242.4 C1118.3,241.5 1119.5,239.8 1120.7,237.8 C1121.9,235.8 1123.2,233.0 1124.4,230.5 C1125.6,228.1 1126.6,225.2 1128.0,223.3 C1129.4,221.3 1131.2,219.2 1132.5,218.7 C1133.9,218.3 1135.0,219.8 1136.2,220.5 C1137.4,221.3 1138.6,221.9 1139.8,223.3 C1141.0,224.6 1142.4,226.6 1143.5,228.7 C1144.5,230.8 1145.3,233.6 1146.2,236.0 C1147.1,238.4 1147.8,240.5 1148.9,243.3 C1150.0,246.0 1151.5,249.6 1152.5,252.4 C1153.6,255.1 1154.3,257.4 1155.3,259.6 C1156.2,261.9 1157.0,263.9 1158.1,266.0 C1159.2,268.1 1160.6,270.7 1161.8,272.4 C1163.0,274.0 1164.4,274.8 1165.5,276.0 C1166.5,277.2 1167.3,278.1 1168.2,279.6 C1169.1,281.2 1170.0,283.3 1170.9,285.1 C1171.8,286.9 1172.7,288.7 1173.6,290.5 C1174.5,292.4 1175.3,294.3 1176.4,296.0 C1177.4,297.7 1178.8,299.6 1180.0,300.5 C1181.2,301.5 1182.4,301.5 1183.6,301.5 C1184.8,301.5 1186.2,301.2 1187.3,300.5 C1188.3,299.9 1189.1,299.2 1190.0,297.8 C1190.9,296.5 1191.8,294.5 1192.7,292.4 C1193.6,290.2 1194.5,287.5 1195.5,285.1 C1196.4,282.7 1197.3,280.1 1198.2,277.8 C1199.1,275.5 1200.0,273.3 1200.9,271.5 C1201.8,269.6 1202.6,268.3 1203.6,266.9 C1204.7,265.5 1206.1,264.0 1207.3,263.3 C1208.5,262.5 1209.8,262.8 1210.9,262.4 C1212.0,261.9 1212.7,261.5 1213.6,260.5 C1214.5,259.6 1215.5,258.3 1216.4,256.9 C1217.3,255.5 1218.2,253.9 1219.1,252.4 C1220.0,250.8 1220.9,249.5 1221.8,247.8 C1222.7,246.2 1223.6,244.2 1224.5,242.4 C1225.5,240.5 1226.2,238.9 1227.3,236.9 C1228.3,234.9 1229.7,232.5 1230.9,230.5 C1232.1,228.6 1233.3,226.9 1234.5,225.1 C1235.8,223.3 1237.0,221.8 1238.2,219.6 C1239.4,217.5 1240.5,215.2 1241.8,212.4 C1243.2,209.5 1245.6,204.0 1246.4,202.4" fill="none" stroke="#dd0000" stroke-width="2.3" stroke-linejoin="round" stroke-linecap="round"/>
</g>
<line x1="177.6" y1="362.1" x2="1237.0" y2="362.1" stroke="#6a6a6a" stroke-width="1.6"/>
<line x1="177.6" y1="40.6" x2="1247.0" y2="40.6" stroke="#1a1a1a" stroke-width="1.3"/>
<line x1="177.6" y1="40.6" x2="177.6" y2="362.1" stroke="#1a1a1a" stroke-width="1.3"/>
<line x1="1247.0" y1="40.6" x2="1247.0" y2="362.1" stroke="#3a3aff" stroke-width="1.3"/>
<line x1="302.2" y1="362.1" x2="302.2" y2="351.1" stroke="#333" stroke-width="1.3"/>
<line x1="302.2" y1="40.6" x2="302.2" y2="51.6" stroke="#333" stroke-width="1.2"/>
<line x1="426.8" y1="362.1" x2="426.8" y2="351.1" stroke="#333" stroke-width="1.3"/>
<line x1="426.8" y1="40.6" x2="426.8" y2="51.6" stroke="#333" stroke-width="1.2"/>
<line x1="551.4" y1="362.1" x2="551.4" y2="351.1" stroke="#333" stroke-width="1.3"/>
<line x1="551.4" y1="40.6" x2="551.4" y2="51.6" stroke="#333" stroke-width="1.2"/>
<line x1="676.0" y1="362.1" x2="676.0" y2="351.1" stroke="#333" stroke-width="1.3"/>
<line x1="676.0" y1="40.6" x2="676.0" y2="51.6" stroke="#333" stroke-width="1.2"/>
<line x1="800.6" y1="362.1" x2="800.6" y2="351.1" stroke="#333" stroke-width="1.3"/>
<line x1="800.6" y1="40.6" x2="800.6" y2="51.6" stroke="#333" stroke-width="1.2"/>
<line x1="925.2" y1="362.1" x2="925.2" y2="351.1" stroke="#333" stroke-width="1.3"/>
<line x1="925.2" y1="40.6" x2="925.2" y2="51.6" stroke="#333" stroke-width="1.2"/>
<line x1="1049.8" y1="362.1" x2="1049.8" y2="351.1" stroke="#333" stroke-width="1.3"/>
<line x1="1049.8" y1="40.6" x2="1049.8" y2="51.6" stroke="#333" stroke-width="1.2"/>
<line x1="1174.4" y1="362.1" x2="1174.4" y2="351.1" stroke="#333" stroke-width="1.3"/>
<line x1="1174.4" y1="40.6" x2="1174.4" y2="51.6" stroke="#333" stroke-width="1.2"/>
<text transform="translate(177.60,394.60) scale(1,1.095)" font-family="Liberation Serif, serif" font-size="24" fill="#000" text-anchor="middle">1980</text>
<text transform="translate(302.20,394.60) scale(1,1.095)" font-family="Liberation Serif, serif" font-size="24" fill="#000" text-anchor="middle">1985</text>
<text transform="translate(426.80,394.60) scale(1,1.095)" font-family="Liberation Serif, serif" font-size="24" fill="#000" text-anchor="middle">1990</text>
<text transform="translate(551.40,394.60) scale(1,1.095)" font-family="Liberation Serif, serif" font-size="24" fill="#000" text-anchor="middle">1995</text>
<text transform="translate(676.00,394.60) scale(1,1.095)" font-family="Liberation Serif, serif" font-size="24" fill="#000" text-anchor="middle">2000</text>
<text transform="translate(800.60,394.60) scale(1,1.095)" font-family="Liberation Serif, serif" font-size="24" fill="#000" text-anchor="middle">2005</text>
<text transform="translate(925.20,394.60) scale(1,1.095)" font-family="Liberation Serif, serif" font-size="24" fill="#000" text-anchor="middle">2010</text>
<text transform="translate(1049.80,394.60) scale(1,1.095)" font-family="Liberation Serif, serif" font-size="24" fill="#000" text-anchor="middle">2015</text>
<text transform="translate(1174.40,394.60) scale(1,1.095)" font-family="Liberation Serif, serif" font-size="24" fill="#000" text-anchor="middle">2020</text>
<text transform="translate(168.00,371.30) scale(1,1.095)" font-family="Liberation Serif, serif" font-size="24" fill="#000" text-anchor="end">-3</text>
<line x1="177.6" y1="308.52" x2="188.6" y2="308.52" stroke="#1a1a1a" stroke-width="1.2"/>
<text transform="translate(168.00,317.72) scale(1,1.095)" font-family="Liberation Serif, serif" font-size="24" fill="#000" text-anchor="end">-2</text>
<line x1="177.6" y1="254.93" x2="188.6" y2="254.93" stroke="#1a1a1a" stroke-width="1.2"/>
<text transform="translate(168.00,264.13) scale(1,1.095)" font-family="Liberation Serif, serif" font-size="24" fill="#000" text-anchor="end">-1</text>
<line x1="177.6" y1="201.35" x2="188.6" y2="201.35" stroke="#1a1a1a" stroke-width="1.2"/>
<text transform="translate(168.00,210.55) scale(1,1.095)" font-family="Liberation Serif, serif" font-size="24" fill="#000" text-anchor="end">0</text>
<line x1="177.6" y1="147.77" x2="188.6" y2="147.77" stroke="#1a1a1a" stroke-width="1.2"/>
<text transform="translate(168.00,156.97) scale(1,1.095)" font-family="Liberation Serif, serif" font-size="24" fill="#000" text-anchor="end">1</text>
<line x1="177.6" y1="94.18" x2="188.6" y2="94.18" stroke="#1a1a1a" stroke-width="1.2"/>
<text transform="translate(168.00,103.38) scale(1,1.095)" font-family="Liberation Serif, serif" font-size="24" fill="#000" text-anchor="end">2</text>
<text transform="translate(168.00,49.80) scale(1,1.095)" font-family="Liberation Serif, serif" font-size="24" fill="#000" text-anchor="end">3</text>
<line x1="1247.0" y1="362.10" x2="1236.0" y2="362.10" stroke="#3a3aff" stroke-width="1.2"/>
<text transform="translate(1255.00,371.30) scale(1,1.095)" font-family="Liberation Serif, serif" font-size="24" fill="#0000ff">-4</text>
<line x1="1247.0" y1="281.73" x2="1236.0" y2="281.73" stroke="#3a3aff" stroke-width="1.2"/>
<text transform="translate(1255.00,290.93) scale(1,1.095)" font-family="Liberation Serif, serif" font-size="24" fill="#0000ff">-2</text>
<line x1="1247.0" y1="201.35" x2="1236.0" y2="201.35" stroke="#3a3aff" stroke-width="1.2"/>
<text transform="translate(1255.00,210.55) scale(1,1.095)" font-family="Liberation Serif, serif" font-size="24" fill="#0000ff">0</text>
<line x1="1247.0" y1="120.98" x2="1236.0" y2="120.98" stroke="#3a3aff" stroke-width="1.2"/>
<text transform="translate(1255.00,130.18) scale(1,1.095)" font-family="Liberation Serif, serif" font-size="24" fill="#0000ff">2</text>
<line x1="1247.0" y1="40.60" x2="1236.0" y2="40.60" stroke="#3a3aff" stroke-width="1.2"/>
<text transform="translate(1255.00,49.80) scale(1,1.095)" font-family="Liberation Serif, serif" font-size="24" fill="#0000ff">4</text>
<line x1="1338.6" y1="40.6" x2="1338.6" y2="362.1" stroke="#78c24c" stroke-width="1.3"/>
<line x1="1338.6" y1="362.10" x2="1327.6" y2="362.10" stroke="#78c24c" stroke-width="1.2"/>
<text transform="translate(1347.30,371.30) scale(1,1.095)" font-family="Liberation Serif, serif" font-size="24" fill="#78c24c">-4</text>
<line x1="1338.6" y1="281.73" x2="1327.6" y2="281.73" stroke="#78c24c" stroke-width="1.2"/>
<text transform="translate(1347.30,290.93) scale(1,1.095)" font-family="Liberation Serif, serif" font-size="24" fill="#78c24c">-2</text>
<line x1="1338.6" y1="201.35" x2="1327.6" y2="201.35" stroke="#78c24c" stroke-width="1.2"/>
<text transform="translate(1347.30,210.55) scale(1,1.095)" font-family="Liberation Serif, serif" font-size="24" fill="#78c24c">0</text>
<line x1="1338.6" y1="120.98" x2="1327.6" y2="120.98" stroke="#78c24c" stroke-width="1.2"/>
<text transform="translate(1347.30,130.18) scale(1,1.095)" font-family="Liberation Serif, serif" font-size="24" fill="#78c24c">2</text>
<line x1="1338.6" y1="40.60" x2="1327.6" y2="40.60" stroke="#78c24c" stroke-width="1.2"/>
<text transform="translate(1347.30,49.80) scale(1,1.095)" font-family="Liberation Serif, serif" font-size="24" fill="#78c24c">4</text>
<line x1="86.5" y1="40.6" x2="86.5" y2="362.1" stroke="#dd0000" stroke-width="1.3"/>
<line x1="86.5" y1="362.10" x2="98.5" y2="362.10" stroke="#dd0000" stroke-width="1.2"/>
<text transform="translate(77.00,371.30) scale(1,1.095)" font-family="Liberation Serif, serif" font-size="24" fill="#dd0000" text-anchor="end">-30</text>
<line x1="86.5" y1="308.52" x2="98.5" y2="308.52" stroke="#dd0000" stroke-width="1.2"/>
<text transform="translate(77.00,317.72) scale(1,1.095)" font-family="Liberation Serif, serif" font-size="24" fill="#dd0000" text-anchor="end">-20</text>
<line x1="86.5" y1="254.93" x2="98.5" y2="254.93" stroke="#dd0000" stroke-width="1.2"/>
<text transform="translate(77.00,264.13) scale(1,1.095)" font-family="Liberation Serif, serif" font-size="24" fill="#dd0000" text-anchor="end">-10</text>
<line x1="86.5" y1="201.35" x2="98.5" y2="201.35" stroke="#dd0000" stroke-width="1.2"/>
<text transform="translate(77.00,210.55) scale(1,1.095)" font-family="Liberation Serif, serif" font-size="24" fill="#dd0000" text-anchor="end">0</text>
<line x1="86.5" y1="147.77" x2="98.5" y2="147.77" stroke="#dd0000" stroke-width="1.2"/>
<text transform="translate(77.00,156.97) scale(1,1.095)" font-family="Liberation Serif, serif" font-size="24" fill="#dd0000" text-anchor="end">10</text>
<line x1="86.5" y1="94.18" x2="98.5" y2="94.18" stroke="#dd0000" stroke-width="1.2"/>
<text transform="translate(77.00,103.38) scale(1,1.095)" font-family="Liberation Serif, serif" font-size="24" fill="#dd0000" text-anchor="end">20</text>
<line x1="86.5" y1="40.60" x2="98.5" y2="40.60" stroke="#dd0000" stroke-width="1.2"/>
<text transform="translate(77.00,49.80) scale(1,1.095)" font-family="Liberation Serif, serif" font-size="24" fill="#dd0000" text-anchor="end">30</text>
<text transform="translate(21.70,201.10) rotate(-90) scale(1,1.050)" font-family="Liberation Serif, serif" font-size="27" fill="#dd0000" text-anchor="middle">SST<tspan font-size="20" dy="12">H</tspan></text>
<text transform="translate(135.60,201.10) rotate(-90) scale(1,1.050)" font-family="Liberation Serif, serif" font-size="27" fill="#000" text-anchor="middle">Nino3.4</text>
<text transform="translate(1308.70,201.60) rotate(-90) scale(1,1.050)" font-family="Liberation Serif, serif" font-size="27" fill="#0000ff" text-anchor="middle">WWV</text>
<text transform="translate(1399.90,201.20) rotate(-90) scale(1,1.050)" font-family="Liberation Serif, serif" font-size="27" fill="#78c24c" text-anchor="middle">WWV<tspan font-size="21" dy="12.2">W</tspan></text>
<text transform="translate(184.50,23.90)" font-family="Liberation Sans, sans-serif" font-size="29" fill="#000" font-weight="bold">A</text>
<line x1="225.4" y1="843.4" x2="225.4" y2="467.9" stroke="#d6d6d6" stroke-width="1.2" stroke-dasharray="12 7.56"/>
<line x1="272.9" y1="843.4" x2="272.9" y2="467.9" stroke="#d6d6d6" stroke-width="1.2" stroke-dasharray="12 7.56"/>
<line x1="320.4" y1="843.4" x2="320.4" y2="467.9" stroke="#d6d6d6" stroke-width="1.2" stroke-dasharray="12 7.56"/>
<line x1="367.9" y1="843.4" x2="367.9" y2="467.9" stroke="#d6d6d6" stroke-width="1.2" stroke-dasharray="12 7.56"/>
<line x1="415.4" y1="843.4" x2="415.4" y2="467.9" stroke="#d6d6d6" stroke-width="1.2" stroke-dasharray="12 7.56"/>
<line x1="462.9" y1="843.4" x2="462.9" y2="467.9" stroke="#d6d6d6" stroke-width="1.2" stroke-dasharray="12 7.56"/>
<line x1="510.4" y1="843.4" x2="510.4" y2="467.9" stroke="#d6d6d6" stroke-width="1.2" stroke-dasharray="12 7.56"/>
<line x1="557.9" y1="843.4" x2="557.9" y2="467.9" stroke="#d6d6d6" stroke-width="1.2" stroke-dasharray="12 7.56"/>
<line x1="182.7" y1="796.5" x2="605.4" y2="796.5" stroke="#d6d6d6" stroke-width="1.2" stroke-dasharray="12 7.56"/>
<line x1="182.7" y1="749.5" x2="605.4" y2="749.5" stroke="#d6d6d6" stroke-width="1.2" stroke-dasharray="12 7.56"/>
<line x1="182.7" y1="702.6" x2="605.4" y2="702.6" stroke="#d6d6d6" stroke-width="1.2" stroke-dasharray="12 7.56"/>
<line x1="182.7" y1="655.6" x2="605.4" y2="655.6" stroke="#d6d6d6" stroke-width="1.2" stroke-dasharray="12 7.56"/>
<line x1="182.7" y1="608.7" x2="605.4" y2="608.7" stroke="#d6d6d6" stroke-width="1.2" stroke-dasharray="12 7.56"/>
<line x1="182.7" y1="561.8" x2="605.4" y2="561.8" stroke="#d6d6d6" stroke-width="1.2" stroke-dasharray="12 7.56"/>
<line x1="182.7" y1="514.8" x2="605.4" y2="514.8" stroke="#d6d6d6" stroke-width="1.2" stroke-dasharray="12 7.56"/>
<g clip-path="url(#clipB)">
<polyline points="177.9,741.5 201.7,734.5 225.4,729.1 249.2,724.2 272.9,719.5 296.6,715.3 320.4,711.0 344.1,706.1 367.9,695.5 391.6,679.8 415.4,658.0 439.1,633.1 462.9,604.0 486.6,575.9 510.4,548.4 534.1,521.6 557.9,498.4 581.6,478.7 605.4,467.9" fill="none" stroke="#000" stroke-width="3.7" stroke-linejoin="round" stroke-linecap="round"/>
<polyline points="177.9,608.9 201.7,606.1 225.4,604.0 249.2,601.9 272.9,600.3 296.6,598.9 320.4,598.2 344.1,598.2 367.9,598.4 391.6,600.5 415.4,604.0 439.1,608.0 462.9,614.3 486.6,623.5 510.4,635.2 534.1,649.8 557.9,665.7 581.6,683.1 605.4,701.9" fill="none" stroke="#dd0000" stroke-width="3.7" stroke-linejoin="round" stroke-linecap="round"/>
<polyline points="177.9,635.2 201.7,631.5 225.4,628.7 249.2,626.1 272.9,623.5 296.6,618.6 320.4,612.7 344.1,606.1 367.9,597.7 391.6,587.4 415.4,576.8 439.1,568.3 462.9,561.3 486.6,558.0 510.4,559.2 534.1,565.5 557.9,578.9 581.6,600.5 605.4,630.1" fill="none" stroke="#0000ff" stroke-width="3.7" stroke-linejoin="round" stroke-linecap="round"/>
<polyline points="177.9,622.6 201.7,623.5 225.4,624.7 249.2,626.3 272.9,627.7 296.6,628.9 320.4,629.8 344.1,631.0 367.9,633.1 391.6,638.5 415.4,647.0 439.1,657.3 462.9,672.8 486.6,692.7 510.4,716.7 534.1,743.7 557.9,773.0 581.6,802.8 605.4,832.6" fill="none" stroke="#8cff33" stroke-width="3.7" stroke-linejoin="round" stroke-linecap="round"/>
</g>
<rect x="177.9" y="467.9" width="427.5" height="375.5" fill="none" stroke="#262626" stroke-width="1.6"/>
<line x1="177.9" y1="843.4" x2="177.9" y2="848.4" stroke="#262626" stroke-width="1.6"/>
<line x1="177.9" y1="467.9" x2="177.9" y2="462.9" stroke="#262626" stroke-width="1.6"/>
<line x1="225.4" y1="843.4" x2="225.4" y2="848.4" stroke="#262626" stroke-width="1.6"/>
<line x1="225.4" y1="467.9" x2="225.4" y2="462.9" stroke="#262626" stroke-width="1.6"/>
<line x1="272.9" y1="843.4" x2="272.9" y2="848.4" stroke="#262626" stroke-width="1.6"/>
<line x1="272.9" y1="467.9" x2="272.9" y2="462.9" stroke="#262626" stroke-width="1.6"/>
<line x1="320.4" y1="843.4" x2="320.4" y2="848.4" stroke="#262626" stroke-width="1.6"/>
<line x1="320.4" y1="467.9" x2="320.4" y2="462.9" stroke="#262626" stroke-width="1.6"/>
<line x1="367.9" y1="843.4" x2="367.9" y2="848.4" stroke="#262626" stroke-width="1.6"/>
<line x1="367.9" y1="467.9" x2="367.9" y2="462.9" stroke="#262626" stroke-width="1.6"/>
<line x1="415.4" y1="843.4" x2="415.4" y2="848.4" stroke="#262626" stroke-width="1.6"/>
<line x1="415.4" y1="467.9" x2="415.4" y2="462.9" stroke="#262626" stroke-width="1.6"/>
<line x1="462.9" y1="843.4" x2="462.9" y2="848.4" stroke="#262626" stroke-width="1.6"/>
<line x1="462.9" y1="467.9" x2="462.9" y2="462.9" stroke="#262626" stroke-width="1.6"/>
<line x1="510.4" y1="843.4" x2="510.4" y2="848.4" stroke="#262626" stroke-width="1.6"/>
<line x1="510.4" y1="467.9" x2="510.4" y2="462.9" stroke="#262626" stroke-width="1.6"/>
<line x1="557.9" y1="843.4" x2="557.9" y2="848.4" stroke="#262626" stroke-width="1.6"/>
<line x1="557.9" y1="467.9" x2="557.9" y2="462.9" stroke="#262626" stroke-width="1.6"/>
<line x1="605.4" y1="843.4" x2="605.4" y2="848.4" stroke="#262626" stroke-width="1.6"/>
<line x1="605.4" y1="467.9" x2="605.4" y2="462.9" stroke="#262626" stroke-width="1.6"/>
<line x1="177.9" y1="843.4" x2="172.9" y2="843.4" stroke="#262626" stroke-width="1.6"/>
<line x1="605.4" y1="843.4" x2="610.4" y2="843.4" stroke="#262626" stroke-width="1.6"/>
<line x1="177.9" y1="796.5" x2="172.9" y2="796.5" stroke="#262626" stroke-width="1.6"/>
<line x1="605.4" y1="796.5" x2="610.4" y2="796.5" stroke="#262626" stroke-width="1.6"/>
<line x1="177.9" y1="749.5" x2="172.9" y2="749.5" stroke="#262626" stroke-width="1.6"/>
<line x1="605.4" y1="749.5" x2="610.4" y2="749.5" stroke="#262626" stroke-width="1.6"/>
<line x1="177.9" y1="702.6" x2="172.9" y2="702.6" stroke="#262626" stroke-width="1.6"/>
<line x1="605.4" y1="702.6" x2="610.4" y2="702.6" stroke="#262626" stroke-width="1.6"/>
<line x1="177.9" y1="655.6" x2="172.9" y2="655.6" stroke="#262626" stroke-width="1.6"/>
<line x1="605.4" y1="655.6" x2="610.4" y2="655.6" stroke="#262626" stroke-width="1.6"/>
<line x1="177.9" y1="608.7" x2="172.9" y2="608.7" stroke="#262626" stroke-width="1.6"/>
<line x1="605.4" y1="608.7" x2="610.4" y2="608.7" stroke="#262626" stroke-width="1.6"/>
<line x1="177.9" y1="561.8" x2="172.9" y2="561.8" stroke="#262626" stroke-width="1.6"/>
<line x1="605.4" y1="561.8" x2="610.4" y2="561.8" stroke="#262626" stroke-width="1.6"/>
<line x1="177.9" y1="514.8" x2="172.9" y2="514.8" stroke="#262626" stroke-width="1.6"/>
<line x1="605.4" y1="514.8" x2="610.4" y2="514.8" stroke="#262626" stroke-width="1.6"/>
<line x1="177.9" y1="467.9" x2="172.9" y2="467.9" stroke="#262626" stroke-width="1.6"/>
<line x1="605.4" y1="467.9" x2="610.4" y2="467.9" stroke="#262626" stroke-width="1.6"/>
<text transform="translate(164.00,853.70)" font-family="Liberation Sans, sans-serif" font-size="24" fill="#1a1a1a" text-anchor="end">-0.6</text>
<text transform="translate(164.00,806.76)" font-family="Liberation Sans, sans-serif" font-size="24" fill="#1a1a1a" text-anchor="end">-0.4</text>
<text transform="translate(164.00,759.82)" font-family="Liberation Sans, sans-serif" font-size="24" fill="#1a1a1a" text-anchor="end">-0.2</text>
<text transform="translate(164.00,712.89)" font-family="Liberation Sans, sans-serif" font-size="24" fill="#1a1a1a" text-anchor="end">0</text>
<text transform="translate(164.00,665.95)" font-family="Liberation Sans, sans-serif" font-size="24" fill="#1a1a1a" text-anchor="end">0.2</text>
<text transform="translate(164.00,619.01)" font-family="Liberation Sans, sans-serif" font-size="24" fill="#1a1a1a" text-anchor="end">0.4</text>
<text transform="translate(164.00,572.07)" font-family="Liberation Sans, sans-serif" font-size="24" fill="#1a1a1a" text-anchor="end">0.6</text>
<text transform="translate(164.00,525.14)" font-family="Liberation Sans, sans-serif" font-size="24" fill="#1a1a1a" text-anchor="end">0.8</text>
<text transform="translate(164.00,478.20)" font-family="Liberation Sans, sans-serif" font-size="24" fill="#1a1a1a" text-anchor="end">1</text>
<text transform="translate(177.90,883.00)" font-family="Liberation Sans, sans-serif" font-size="24" fill="#1a1a1a" text-anchor="middle">-18</text>
<text transform="translate(225.40,883.00)" font-family="Liberation Sans, sans-serif" font-size="24" fill="#1a1a1a" text-anchor="middle">-16</text>
<text transform="translate(272.90,883.00)" font-family="Liberation Sans, sans-serif" font-size="24" fill="#1a1a1a" text-anchor="middle">-14</text>
<text transform="translate(320.40,883.00)" font-family="Liberation Sans, sans-serif" font-size="24" fill="#1a1a1a" text-anchor="middle">-12</text>
<text transform="translate(367.90,883.00)" font-family="Liberation Sans, sans-serif" font-size="24" fill="#1a1a1a" text-anchor="middle">-10</text>
<text transform="translate(415.40,883.00)" font-family="Liberation Sans, sans-serif" font-size="24" fill="#1a1a1a" text-anchor="middle">-8</text>
<text transform="translate(462.90,883.00)" font-family="Liberation Sans, sans-serif" font-size="24" fill="#1a1a1a" text-anchor="middle">-6</text>
<text transform="translate(510.40,883.00)" font-family="Liberation Sans, sans-serif" font-size="24" fill="#1a1a1a" text-anchor="middle">-4</text>
<text transform="translate(557.90,883.00)" font-family="Liberation Sans, sans-serif" font-size="24" fill="#1a1a1a" text-anchor="middle">-2</text>
<text transform="translate(605.40,883.00)" font-family="Liberation Sans, sans-serif" font-size="24" fill="#1a1a1a" text-anchor="middle">0</text>
<text transform="translate(391.65,919.40)" font-family="Liberation Sans, sans-serif" font-size="27" fill="#1a1a1a" text-anchor="middle">SST<tspan font-size="21" dy="11.7">H</tspan><tspan dy="-11.7"> leads Nino3.4</tspan></text>
<text transform="translate(182.50,455.00) scale(1,1.040)" font-family="Liberation Sans, sans-serif" font-size="29" fill="#000" font-weight="bold">B</text>
<text transform="translate(214.00,459.40)" font-family="Liberation Sans, sans-serif" font-size="24.5" fill="#1a1a1a">Obs</text>
<line x1="635.3" y1="500.7" x2="673.5" y2="500.7" stroke="#000" stroke-width="3"/>
<text x="681" y="508.7" font-family="Liberation Sans, sans-serif" font-size="18.5" fill="#000">Nino34</text>
<line x1="635.3" y1="525.1" x2="673.5" y2="525.1" stroke="#dd0000" stroke-width="3"/>
<text x="681" y="533.1" font-family="Liberation Sans, sans-serif" font-size="18.5" fill="#dd0000">SST<tspan font-size="15" dy="8">H</tspan></text>
<line x1="635.3" y1="549.5" x2="673.5" y2="549.5" stroke="#0000ff" stroke-width="3"/>
<text x="681" y="557.5" font-family="Liberation Sans, sans-serif" font-size="18.5" fill="#0000ff">WWV</text>
<line x1="635.3" y1="573.9" x2="673.5" y2="573.9" stroke="#78c24c" stroke-width="3"/>
<text x="681" y="581.9" font-family="Liberation Sans, sans-serif" font-size="18.5" fill="#78c24c">WWV<tspan font-size="15" dy="8">W</tspan></text>
<line x1="865.6" y1="843.4" x2="865.6" y2="467.9" stroke="#d6d6d6" stroke-width="1.2" stroke-dasharray="12 7.56"/>
<line x1="913.2" y1="843.4" x2="913.2" y2="467.9" stroke="#d6d6d6" stroke-width="1.2" stroke-dasharray="12 7.56"/>
<line x1="960.9" y1="843.4" x2="960.9" y2="467.9" stroke="#d6d6d6" stroke-width="1.2" stroke-dasharray="12 7.56"/>
<line x1="1008.5" y1="843.4" x2="1008.5" y2="467.9" stroke="#d6d6d6" stroke-width="1.2" stroke-dasharray="12 7.56"/>
<line x1="1056.2" y1="843.4" x2="1056.2" y2="467.9" stroke="#d6d6d6" stroke-width="1.2" stroke-dasharray="12 7.56"/>
<line x1="1103.8" y1="843.4" x2="1103.8" y2="467.9" stroke="#d6d6d6" stroke-width="1.2" stroke-dasharray="12 7.56"/>
<line x1="1151.5" y1="843.4" x2="1151.5" y2="467.9" stroke="#d6d6d6" stroke-width="1.2" stroke-dasharray="12 7.56"/>
<line x1="1199.1" y1="843.4" x2="1199.1" y2="467.9" stroke="#d6d6d6" stroke-width="1.2" stroke-dasharray="12 7.56"/>
<line x1="823.9" y1="768.3" x2="1246.8" y2="768.3" stroke="#d6d6d6" stroke-width="1.2" stroke-dasharray="12 7.56"/>
<line x1="823.9" y1="693.2" x2="1246.8" y2="693.2" stroke="#d6d6d6" stroke-width="1.2" stroke-dasharray="12 7.56"/>
<line x1="823.9" y1="618.1" x2="1246.8" y2="618.1" stroke="#d6d6d6" stroke-width="1.2" stroke-dasharray="12 7.56"/>
<line x1="823.9" y1="543.0" x2="1246.8" y2="543.0" stroke="#d6d6d6" stroke-width="1.2" stroke-dasharray="12 7.56"/>
<g clip-path="url(#clipC)">
<polyline points="817.9,697.0 841.7,680.2 865.6,665.8 889.4,653.8 913.2,644.3 937.0,637.3 960.9,632.6 984.7,630.3 1008.5,630.5 1032.3,633.1 1056.2,638.2 1080.0,645.7 1103.8,655.8 1127.7,668.3 1151.5,683.3 1175.3,700.8 1199.1,720.8 1223.0,743.3 1246.8,768.3" fill="none" stroke="#8f8f8f" stroke-width="1"/>
<polyline points="817.9,654.9 841.7,636.7 865.6,620.7 889.4,606.9 913.2,595.2 937.0,585.7 960.9,578.3 984.7,573.2 1008.5,570.1 1032.3,569.3 1056.2,572.0 1080.0,579.5 1103.8,591.9 1127.7,609.1 1151.5,631.2 1175.3,658.2 1199.1,690.0 1223.0,726.7 1246.8,768.3" fill="none" stroke="#8f8f8f" stroke-width="1"/>
<polyline points="817.9,577.9 841.7,579.5 865.6,581.1 889.4,582.8 913.2,584.5 937.0,586.3 960.9,588.2 984.7,590.1 1008.5,592.0 1032.3,594.1 1056.2,598.0 1080.0,605.9 1103.8,617.5 1127.7,633.0 1151.5,652.4 1175.3,675.6 1199.1,702.7 1223.0,733.6 1246.8,768.3" fill="none" stroke="#8f8f8f" stroke-width="1"/>
<polyline points="817.9,590.7 841.7,587.2 865.6,584.5 889.4,582.7 913.2,581.8 937.0,581.7 960.9,582.5 984.7,584.1 1008.5,586.6 1032.3,589.9 1056.2,595.5 1080.0,604.6 1103.8,617.3 1127.7,633.5 1151.5,653.4 1175.3,676.8 1199.1,703.7 1223.0,734.2 1246.8,768.3" fill="none" stroke="#8f8f8f" stroke-width="1"/>
<polyline points="817.9,596.7 841.7,598.6 865.6,600.4 889.4,602.2 913.2,603.9 937.0,605.5 960.9,607.1 984.7,608.5 1008.5,610.0 1032.3,611.3 1056.2,614.5 1080.0,621.2 1103.8,631.4 1127.7,645.3 1151.5,662.7 1175.3,683.8 1199.1,708.4 1223.0,736.5 1246.8,768.3" fill="none" stroke="#8f8f8f" stroke-width="1"/>
<polyline points="817.9,612.1 841.7,618.3 865.6,623.9 889.4,628.9 913.2,633.2 937.0,636.9 960.9,640.0 984.7,642.5 1008.5,644.3 1032.3,645.5 1056.2,647.8 1080.0,653.0 1103.8,660.9 1127.7,671.8 1151.5,685.4 1175.3,701.9 1199.1,721.2 1223.0,743.3 1246.8,768.3" fill="none" stroke="#8f8f8f" stroke-width="1"/>
<polyline points="817.9,632.7 841.7,623.8 865.6,616.6 889.4,611.2 913.2,607.5 937.0,605.4 960.9,605.2 984.7,606.6 1008.5,609.8 1032.3,614.7 1056.2,621.7 1080.0,631.3 1103.8,643.3 1127.7,657.9 1151.5,675.0 1175.3,694.5 1199.1,716.6 1223.0,741.2 1246.8,768.3" fill="none" stroke="#8f8f8f" stroke-width="1"/>
<polyline points="817.9,642.1 841.7,631.3 865.6,622.5 889.4,615.7 913.2,610.9 937.0,608.0 960.9,607.2 984.7,608.3 1008.5,611.5 1032.3,616.6 1056.2,623.9 1080.0,633.6 1103.8,645.7 1127.7,660.2 1151.5,677.1 1175.3,696.3 1199.1,717.9 1223.0,741.9 1246.8,768.3" fill="none" stroke="#8f8f8f" stroke-width="1"/>
<polyline points="817.9,644.0 841.7,640.6 865.6,637.5 889.4,634.8 913.2,632.3 937.0,630.3 960.9,628.5 984.7,627.1 1008.5,626.0 1032.3,625.2 1056.2,626.5 1080.0,631.4 1103.8,640.0 1127.7,652.2 1151.5,668.1 1175.3,687.6 1199.1,710.8 1223.0,737.7 1246.8,768.3" fill="none" stroke="#8f8f8f" stroke-width="1"/>
<polyline points="817.9,650.8 841.7,640.7 865.6,632.3 889.4,625.6 913.2,620.5 937.0,617.1 960.9,615.4 984.7,615.2 1008.5,616.8 1032.3,620.0 1056.2,625.4 1080.0,633.6 1103.8,644.5 1127.7,658.2 1151.5,674.7 1175.3,694.0 1199.1,716.0 1223.0,740.7 1246.8,768.3" fill="none" stroke="#8f8f8f" stroke-width="1"/>
<polyline points="817.9,653.4 841.7,645.5 865.6,638.9 889.4,633.8 913.2,630.0 937.0,627.6 960.9,626.6 984.7,627.0 1008.5,628.8 1032.3,632.0 1056.2,637.1 1080.0,644.8 1103.8,654.9 1127.7,667.6 1151.5,682.7 1175.3,700.3 1199.1,720.5 1223.0,743.1 1246.8,768.3" fill="none" stroke="#8f8f8f" stroke-width="1"/>
<polyline points="817.9,656.8 841.7,651.3 865.6,646.1 889.4,641.5 913.2,637.3 937.0,633.5 960.9,630.1 984.7,627.1 1008.5,624.7 1032.3,622.6 1056.2,622.8 1080.0,626.9 1103.8,635.1 1127.7,647.3 1151.5,663.5 1175.3,683.7 1199.1,707.9 1223.0,736.1 1246.8,768.3" fill="none" stroke="#8f8f8f" stroke-width="1"/>
<polyline points="817.9,662.8 841.7,653.4 865.6,645.4 889.4,638.8 913.2,633.5 937.0,629.6 960.9,627.0 984.7,625.8 1008.5,625.9 1032.3,627.5 1056.2,631.2 1080.0,637.9 1103.8,647.6 1127.7,660.2 1151.5,675.9 1175.3,694.5 1199.1,716.1 1223.0,740.7 1246.8,768.3" fill="none" stroke="#8f8f8f" stroke-width="1"/>
<polyline points="817.9,664.3 841.7,658.7 865.6,653.7 889.4,649.3 913.2,645.5 937.0,642.3 960.9,639.7 984.7,637.6 1008.5,636.2 1032.3,635.4 1056.2,636.5 1080.0,641.1 1103.8,649.1 1127.7,660.4 1151.5,675.2 1175.3,693.4 1199.1,714.9 1223.0,739.9 1246.8,768.3" fill="none" stroke="#8f8f8f" stroke-width="1"/>
<polyline points="817.9,683.4 841.7,670.4 865.6,659.1 889.4,649.6 913.2,641.8 937.0,635.9 960.9,631.8 984.7,629.4 1008.5,628.9 1032.3,630.1 1056.2,633.7 1080.0,640.3 1103.8,649.7 1127.7,662.1 1151.5,677.5 1175.3,695.8 1199.1,717.0 1223.0,741.2 1246.8,768.3" fill="none" stroke="#8f8f8f" stroke-width="1"/>
<polyline points="817.9,686.8 841.7,677.8 865.6,670.0 889.4,663.3 913.2,657.8 937.0,653.4 960.9,650.2 984.7,648.1 1008.5,647.2 1032.3,647.4 1056.2,649.6 1080.0,654.6 1103.8,662.4 1127.7,673.0 1151.5,686.5 1175.3,702.7 1199.1,721.8 1223.0,743.6 1246.8,768.3" fill="none" stroke="#8f8f8f" stroke-width="1"/>
<polyline points="817.9,689.4 841.7,677.4 865.6,667.3 889.4,659.0 913.2,652.6 937.0,648.1 960.9,645.5 984.7,644.8 1008.5,645.9 1032.3,648.9 1056.2,653.8 1080.0,660.9 1103.8,670.0 1127.7,681.2 1151.5,694.5 1175.3,709.8 1199.1,727.3 1223.0,746.7 1246.8,768.3" fill="none" stroke="#8f8f8f" stroke-width="1"/>
<polyline points="817.9,692.1 841.7,683.1 865.6,675.3 889.4,668.6 913.2,663.0 937.0,658.7 960.9,655.5 984.7,653.4 1008.5,652.4 1032.3,652.6 1056.2,654.8 1080.0,659.6 1103.8,667.1 1127.7,677.2 1151.5,690.1 1175.3,705.6 1199.1,723.8 1223.0,744.7 1246.8,768.3" fill="none" stroke="#8f8f8f" stroke-width="1"/>
<polyline points="817.9,694.3 841.7,686.9 865.6,680.2 889.4,674.3 913.2,669.3 937.0,665.0 960.9,661.6 984.7,658.9 1008.5,657.1 1032.3,656.0 1056.2,656.9 1080.0,660.6 1103.8,667.2 1127.7,676.8 1151.5,689.3 1175.3,704.6 1199.1,722.9 1223.0,744.2 1246.8,768.3" fill="none" stroke="#8f8f8f" stroke-width="1"/>
<polyline points="817.9,705.6 841.7,694.7 865.6,685.2 889.4,677.1 913.2,670.6 937.0,665.4 960.9,661.7 984.7,659.5 1008.5,658.7 1032.3,659.4 1056.2,662.0 1080.0,667.0 1103.8,674.3 1127.7,684.0 1151.5,696.1 1175.3,710.6 1199.1,727.4 1223.0,746.7 1246.8,768.3" fill="none" stroke="#8f8f8f" stroke-width="1"/>
<polyline points="817.9,715.0 841.7,703.9 865.6,694.2 889.4,685.8 913.2,678.6 937.0,672.8 960.9,668.3 984.7,665.2 1008.5,663.3 1032.3,662.8 1056.2,664.2 1080.0,668.2 1103.8,674.7 1127.7,683.9 1151.5,695.6 1175.3,709.9 1199.1,726.8 1223.0,746.3 1246.8,768.3" fill="none" stroke="#8f8f8f" stroke-width="1"/>
<polyline points="817.9,716.9 841.7,706.5 865.6,697.4 889.4,689.6 913.2,683.1 937.0,677.8 960.9,673.8 984.7,671.1 1008.5,669.7 1032.3,669.5 1056.2,671.2 1080.0,675.2 1103.8,681.5 1127.7,690.1 1151.5,701.1 1175.3,714.4 1199.1,730.0 1223.0,748.0 1246.8,768.3" fill="none" stroke="#8f8f8f" stroke-width="1"/>
<polyline points="817.9,728.1 841.7,718.4 865.6,710.1 889.4,703.3 913.2,698.0 937.0,694.1 960.9,691.8 984.7,690.9 1008.5,691.5 1032.3,693.6 1056.2,697.0 1080.0,701.6 1103.8,707.5 1127.7,714.6 1151.5,722.9 1175.3,732.4 1199.1,743.1 1223.0,755.1 1246.8,768.3" fill="none" stroke="#8f8f8f" stroke-width="1"/>
<polyline points="817.9,734.5 841.7,728.4 865.6,723.1 889.4,718.4 913.2,714.5 937.0,711.3 960.9,708.8 984.7,707.0 1008.5,705.9 1032.3,705.6 1056.2,706.4 1080.0,708.7 1103.8,712.6 1127.7,718.0 1151.5,725.0 1175.3,733.5 1199.1,743.6 1223.0,755.2 1246.8,768.3" fill="none" stroke="#8f8f8f" stroke-width="1"/>
<polyline points="817.9,737.1 841.7,730.4 865.6,724.6 889.4,719.5 913.2,715.4 937.0,712.1 960.9,709.6 984.7,708.1 1008.5,707.4 1032.3,707.5 1056.2,708.7 1080.0,711.3 1103.8,715.4 1127.7,720.7 1151.5,727.5 1175.3,735.6 1199.1,745.1 1223.0,756.0 1246.8,768.3" fill="none" stroke="#8f8f8f" stroke-width="1"/>
<polyline points="817.9,644.4 841.7,646.7 865.6,649.0 889.4,651.4 913.2,653.8 937.0,656.2 960.9,658.7 984.7,661.1 1008.5,663.6 1032.3,666.2 1056.2,669.7 1080.0,675.1 1103.8,682.6 1127.7,692.0 1151.5,703.3 1175.3,716.6 1199.1,731.9 1223.0,749.1 1246.8,768.3" fill="none" stroke="#8f8f8f" stroke-width="1"/>
<polyline points="817.9,655.6 841.7,659.5 865.6,663.3 889.4,667.0 913.2,670.6 937.0,674.2 960.9,677.7 984.7,681.0 1008.5,684.3 1032.3,687.6 1056.2,691.4 1080.0,696.5 1103.8,702.9 1127.7,710.6 1151.5,719.6 1175.3,729.8 1199.1,741.4 1223.0,754.2 1246.8,768.3" fill="none" stroke="#8f8f8f" stroke-width="1"/>
<polyline points="817.9,685.7 841.7,687.0 865.6,688.2 889.4,689.1 913.2,689.8 937.0,690.3 960.9,690.6 984.7,690.6 1008.5,690.5 1032.3,690.2 1056.2,690.8 1080.0,693.4 1103.8,698.0 1127.7,704.7 1151.5,713.3 1175.3,724.0 1199.1,736.8 1223.0,751.5 1246.8,768.3" fill="none" stroke="#8f8f8f" stroke-width="1"/>
<polyline points="817.9,693.2 841.7,688.4 865.6,684.3 889.4,681.0 913.2,678.3 937.0,676.5 960.9,675.3 984.7,674.9 1008.5,675.3 1032.3,676.3 1056.2,678.7 1080.0,683.1 1103.8,689.4 1127.7,697.7 1151.5,707.9 1175.3,720.0 1199.1,734.2 1223.0,750.3 1246.8,768.3" fill="none" stroke="#8f8f8f" stroke-width="1"/>
<polyline points="817.9,723.2 841.7,714.0 865.6,705.9 889.4,698.8 913.2,692.9 937.0,688.1 960.9,684.5 984.7,681.9 1008.5,680.4 1032.3,680.1 1056.2,681.3 1080.0,684.7 1103.8,690.3 1127.7,697.9 1151.5,707.7 1175.3,719.7 1199.1,733.8 1223.0,750.0 1246.8,768.3" fill="none" stroke="#8f8f8f" stroke-width="1"/>
<polyline points="817.9,674.4 841.7,676.8 865.6,678.8 889.4,680.5 913.2,681.9 937.0,682.8 960.9,683.5 984.7,683.8 1008.5,683.8 1032.3,683.4 1056.2,684.0 1080.0,686.8 1103.8,691.8 1127.7,699.0 1151.5,708.4 1175.3,720.1 1199.1,733.9 1223.0,750.0 1246.8,768.3" fill="none" stroke="#8f8f8f" stroke-width="1"/>
<polyline points="817.9,784.4 841.7,774.3 865.6,758.9 889.4,740.1 913.2,719.5 937.0,695.5 960.9,671.4 984.7,647.8 1008.5,627.1 1032.3,618.1 1056.2,606.8 1080.0,603.1 1103.8,606.8 1127.7,616.2 1151.5,633.1 1175.3,655.6 1199.1,687.6 1223.0,725.1 1246.8,768.3" fill="none" stroke="#8f8f8f" stroke-width="1"/>
<polyline points="817.9,687.6 841.7,655.6 865.6,623.7 889.4,595.6 913.2,569.3 937.0,546.8 960.9,529.1 984.7,516.3 1008.5,508.5 1032.3,505.4 1056.2,508.5 1080.0,520.5 1103.8,540.4 1127.7,565.5 1151.5,596.3 1175.3,633.1 1199.1,676.3 1223.0,721.4 1246.8,768.3" fill="none" stroke="#8f8f8f" stroke-width="1"/>
<polyline points="817.9,576.4 841.7,572.3 865.6,569.3 889.4,567.4 913.2,567.4 937.0,569.3 960.9,572.3 984.7,576.8 1008.5,581.7 1032.3,588.1 1056.2,595.6 1080.0,605.0 1103.8,618.1 1127.7,633.1 1151.5,651.9 1175.3,674.4 1199.1,700.7 1223.0,732.6 1246.8,768.3" fill="none" stroke="#8f8f8f" stroke-width="1"/>
<polyline points="817.9,673.3 841.7,666.9 865.6,660.9 889.4,655.6 913.2,650.8 937.0,646.6 960.9,643.3 984.7,641.0 1008.5,640.3 1032.3,641.6 1056.2,645.5 1080.0,651.9 1103.8,659.8 1127.7,671.8 1151.5,684.9 1175.3,702.6 1199.1,721.7 1223.0,744.3 1246.8,768.3" fill="none" stroke="#de00ff" stroke-width="5" stroke-linejoin="round" stroke-linecap="round"/>
</g>
<rect x="817.9" y="467.9" width="428.9" height="375.5" fill="none" stroke="#262626" stroke-width="1.6"/>
<line x1="817.9" y1="843.4" x2="817.9" y2="848.4" stroke="#262626" stroke-width="1.6"/>
<line x1="817.9" y1="467.9" x2="817.9" y2="462.9" stroke="#262626" stroke-width="1.6"/>
<line x1="865.6" y1="843.4" x2="865.6" y2="848.4" stroke="#262626" stroke-width="1.6"/>
<line x1="865.6" y1="467.9" x2="865.6" y2="462.9" stroke="#262626" stroke-width="1.6"/>
<line x1="913.2" y1="843.4" x2="913.2" y2="848.4" stroke="#262626" stroke-width="1.6"/>
<line x1="913.2" y1="467.9" x2="913.2" y2="462.9" stroke="#262626" stroke-width="1.6"/>
<line x1="960.9" y1="843.4" x2="960.9" y2="848.4" stroke="#262626" stroke-width="1.6"/>
<line x1="960.9" y1="467.9" x2="960.9" y2="462.9" stroke="#262626" stroke-width="1.6"/>
<line x1="1008.5" y1="843.4" x2="1008.5" y2="848.4" stroke="#262626" stroke-width="1.6"/>
<line x1="1008.5" y1="467.9" x2="1008.5" y2="462.9" stroke="#262626" stroke-width="1.6"/>
<line x1="1056.2" y1="843.4" x2="1056.2" y2="848.4" stroke="#262626" stroke-width="1.6"/>
<line x1="1056.2" y1="467.9" x2="1056.2" y2="462.9" stroke="#262626" stroke-width="1.6"/>
<line x1="1103.8" y1="843.4" x2="1103.8" y2="848.4" stroke="#262626" stroke-width="1.6"/>
<line x1="1103.8" y1="467.9" x2="1103.8" y2="462.9" stroke="#262626" stroke-width="1.6"/>
<line x1="1151.5" y1="843.4" x2="1151.5" y2="848.4" stroke="#262626" stroke-width="1.6"/>
<line x1="1151.5" y1="467.9" x2="1151.5" y2="462.9" stroke="#262626" stroke-width="1.6"/>
<line x1="1199.1" y1="843.4" x2="1199.1" y2="848.4" stroke="#262626" stroke-width="1.6"/>
<line x1="1199.1" y1="467.9" x2="1199.1" y2="462.9" stroke="#262626" stroke-width="1.6"/>
<line x1="1246.8" y1="843.4" x2="1246.8" y2="848.4" stroke="#262626" stroke-width="1.6"/>
<line x1="1246.8" y1="467.9" x2="1246.8" y2="462.9" stroke="#262626" stroke-width="1.6"/>
<line x1="817.9" y1="843.4" x2="812.9" y2="843.4" stroke="#262626" stroke-width="1.6"/>
<line x1="1246.8" y1="843.4" x2="1251.8" y2="843.4" stroke="#262626" stroke-width="1.6"/>
<line x1="817.9" y1="768.3" x2="812.9" y2="768.3" stroke="#262626" stroke-width="1.6"/>
<line x1="1246.8" y1="768.3" x2="1251.8" y2="768.3" stroke="#262626" stroke-width="1.6"/>
<line x1="817.9" y1="693.2" x2="812.9" y2="693.2" stroke="#262626" stroke-width="1.6"/>
<line x1="1246.8" y1="693.2" x2="1251.8" y2="693.2" stroke="#262626" stroke-width="1.6"/>
<line x1="817.9" y1="618.1" x2="812.9" y2="618.1" stroke="#262626" stroke-width="1.6"/>
<line x1="1246.8" y1="618.1" x2="1251.8" y2="618.1" stroke="#262626" stroke-width="1.6"/>
<line x1="817.9" y1="543.0" x2="812.9" y2="543.0" stroke="#262626" stroke-width="1.6"/>
<line x1="1246.8" y1="543.0" x2="1251.8" y2="543.0" stroke="#262626" stroke-width="1.6"/>
<line x1="817.9" y1="467.9" x2="812.9" y2="467.9" stroke="#262626" stroke-width="1.6"/>
<line x1="1246.8" y1="467.9" x2="1251.8" y2="467.9" stroke="#262626" stroke-width="1.6"/>
<text transform="translate(1260.00,853.70)" font-family="Liberation Sans, sans-serif" font-size="24" fill="#1a1a1a">-0.2</text>
<text transform="translate(1260.00,778.60)" font-family="Liberation Sans, sans-serif" font-size="24" fill="#1a1a1a">0</text>
<text transform="translate(1260.00,703.50)" font-family="Liberation Sans, sans-serif" font-size="24" fill="#1a1a1a">0.2</text>
<text transform="translate(1260.00,628.40)" font-family="Liberation Sans, sans-serif" font-size="24" fill="#1a1a1a">0.4</text>
<text transform="translate(1260.00,553.30)" font-family="Liberation Sans, sans-serif" font-size="24" fill="#1a1a1a">0.6</text>
<text transform="translate(1260.00,478.20)" font-family="Liberation Sans, sans-serif" font-size="24" fill="#1a1a1a">0.8</text>
<text transform="translate(817.90,883.00)" font-family="Liberation Sans, sans-serif" font-size="24" fill="#1a1a1a" text-anchor="middle">-18</text>
<text transform="translate(865.56,883.00)" font-family="Liberation Sans, sans-serif" font-size="24" fill="#1a1a1a" text-anchor="middle">-16</text>
<text transform="translate(913.21,883.00)" font-family="Liberation Sans, sans-serif" font-size="24" fill="#1a1a1a" text-anchor="middle">-14</text>
<text transform="translate(960.87,883.00)" font-family="Liberation Sans, sans-serif" font-size="24" fill="#1a1a1a" text-anchor="middle">-12</text>
<text transform="translate(1008.52,883.00)" font-family="Liberation Sans, sans-serif" font-size="24" fill="#1a1a1a" text-anchor="middle">-10</text>
<text transform="translate(1056.18,883.00)" font-family="Liberation Sans, sans-serif" font-size="24" fill="#1a1a1a" text-anchor="middle">-8</text>
<text transform="translate(1103.83,883.00)" font-family="Liberation Sans, sans-serif" font-size="24" fill="#1a1a1a" text-anchor="middle">-6</text>
<text transform="translate(1151.49,883.00)" font-family="Liberation Sans, sans-serif" font-size="24" fill="#1a1a1a" text-anchor="middle">-4</text>
<text transform="translate(1199.14,883.00)" font-family="Liberation Sans, sans-serif" font-size="24" fill="#1a1a1a" text-anchor="middle">-2</text>
<text transform="translate(1246.80,883.00)" font-family="Liberation Sans, sans-serif" font-size="24" fill="#1a1a1a" text-anchor="middle">0</text>
<text transform="translate(1032.35,919.40)" font-family="Liberation Sans, sans-serif" font-size="27" fill="#1a1a1a" text-anchor="middle">SST<tspan font-size="21" dy="11.7">H</tspan><tspan dy="-11.7"> leads Nino3.4</tspan></text>
<text transform="translate(822.30,455.30) scale(1,1.040)" font-family="Liberation Sans, sans-serif" font-size="30" fill="#000" font-weight="bold">C</text>
<text transform="translate(853.00,459.40)" font-family="Liberation Sans, sans-serif" font-size="24.5" fill="#1a1a1a">CMIP6</text>
</svg></body></html>
